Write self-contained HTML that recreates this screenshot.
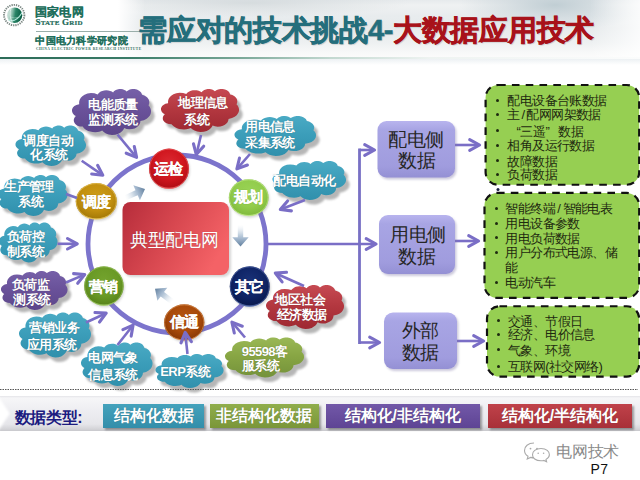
<!DOCTYPE html><html><head><meta charset="utf-8"><style>
*{margin:0;padding:0;box-sizing:border-box}
html,body{width:640px;height:480px;overflow:hidden;background:#fff}
body{position:relative;font-family:"Liberation Sans",sans-serif}
.t{position:absolute;white-space:nowrap;line-height:1}
.cw{color:#fff;font-weight:bold;text-shadow:0 0 1px rgba(0,0,0,.35)}
.cb{-webkit-text-stroke:0.15px #fff}
.g{color:#1e2a10}

</style></head><body>
<div style="position:absolute;left:0;top:0;width:640px;height:57px;background:linear-gradient(180deg,#e6eaec 0px,#eff1f2 5px,#e8ecee 16px,#e6eaec 28px,#edf0f1 42px,#f7f8f8 52px,#fbfbfb 57px)"></div>
<div style="position:absolute;left:0;top:0;width:640px;height:57px;background:radial-gradient(ellipse 95px 26px at 555px 5px,rgba(190,204,210,.95),rgba(196,208,214,.5) 50%,rgba(200,212,216,0))"></div>
<div style="position:absolute;left:0;top:0;width:640px;height:57px;background:radial-gradient(ellipse 160px 14px at 250px 3px,rgba(205,212,215,.7),rgba(205,212,215,0))"></div>
<div style="position:absolute;left:0;top:0;width:640px;height:57px;background:linear-gradient(90deg,#fff 0px,#fff 118px,rgba(255,255,255,0) 145px,rgba(255,255,255,0) 590px,rgba(255,255,255,.8) 640px)"></div>
<div style="position:absolute;left:0;top:57px;width:640px;height:2px;background:linear-gradient(90deg,#2c6c58 0px,#3a7c68 130px,#7aa898 240px,#c2d8d0 330px,#eef3f1 430px,#fbfcfc 640px)"></div>
<div style="position:absolute;left:0;top:59px;width:640px;height:6px;background:linear-gradient(180deg,rgba(225,232,236,.6),rgba(255,255,255,0))"></div>
<svg style="position:absolute;left:0;top:0" width="32" height="32" viewBox="0 0 32 32">
<defs><linearGradient id="lg" x1="0" y1="0" x2="1" y2="0.15"><stop offset="0" stop-color="#e4eeea"/><stop offset="0.35" stop-color="#9cc8b8"/><stop offset="0.6" stop-color="#2a8466"/><stop offset="1" stop-color="#0a5e44"/></linearGradient></defs>
<circle cx="14.2" cy="15.1" r="10.2" fill="none" stroke="#7c8884" stroke-width="1.9" stroke-dasharray="1.3 0.95"/>
<circle cx="14.6" cy="15.2" r="7.7" fill="url(#lg)"/>
<path d="M8.2 19.8 Q15.5 23.5 22.2 12.5" stroke="#b8ece0" stroke-width="1.1" fill="none"/>
<path d="M11 8.2 Q8.6 15.5 12.4 22.6" stroke="#e0f2ec" stroke-width="0.9" fill="none"/>
<path d="M9.5 17 Q14 18.5 19.5 17.5" stroke="#cdeee2" stroke-width="0.6" fill="none" opacity="0.7"/>
</svg>
<div class="t" style="left:34.9px;top:6px;font-size:12px;letter-spacing:0.15px;color:#1f6f5c;font-weight:bold;-webkit-text-stroke:0.1px #1f6f5c;letter-spacing:0.3px">国家电网</div>
<div class="t" style="left:35.5px;top:17.5px;font-size:9px;color:#1c6a58;font-family:'Liberation Serif',serif;font-weight:bold;letter-spacing:0.2px;-webkit-text-stroke:0.2px #1c6a58">S<span style="font-size:7px">TATE</span> G<span style="font-size:7px">RID</span></div>
<div style="position:absolute;left:36px;top:30.5px;width:109px;height:1px;background:#9aaeaa"></div>
<div class="t" style="left:35.3px;top:36.1px;font-size:10px;letter-spacing:0.3px;color:#1f6f5c;font-weight:bold;-webkit-text-stroke:0.1px #1f6f5c">中国电力科学研究院</div>
<div class="t" style="left:36px;top:47.6px;font-size:3.6px;color:#2f6f5c;font-family:'Liberation Serif',serif;font-weight:bold;letter-spacing:0.47px">CHINA ELECTRIC POWER RESEARCH INSTITUTE</div>
<div class="t" style="left:138.3px;top:15.6px;font-size:29px;letter-spacing:-0.3px;font-weight:bold;color:#246e7c;-webkit-text-stroke:0.5px currentColor;text-shadow:1px 1px 1px rgba(0,0,0,.18)">需应对的技术挑战4-<span style="color:#a8121a;-webkit-text-stroke:0.5px #a8121a">大数据应用技术</span></div>
<svg style="position:absolute;left:0;top:0" width="640" height="480" viewBox="0 0 640 480">
<defs>
<filter id="blur1" x="-20%" y="-20%" width="140%" height="140%"><feGaussianBlur stdDeviation="1.3"/></filter>
<filter id="blur08" x="-20%" y="-20%" width="140%" height="140%"><feGaussianBlur stdDeviation="0.9"/></filter><filter id="blur05"><feGaussianBlur stdDeviation="0.5"/></filter>
<linearGradient id="cg0" gradientUnits="userSpaceOnUse" x1="0" y1="89" x2="0" y2="135"><stop offset="0" stop-color="#7660a8"/><stop offset="0.45" stop-color="#6a529a"/><stop offset="1" stop-color="#5c468a"/></linearGradient>
<linearGradient id="cg1" gradientUnits="userSpaceOnUse" x1="0" y1="89" x2="0" y2="132"><stop offset="0" stop-color="#c64a52"/><stop offset="0.45" stop-color="#b43840"/><stop offset="1" stop-color="#9e2832"/></linearGradient>
<linearGradient id="cg2" gradientUnits="userSpaceOnUse" x1="0" y1="116" x2="0" y2="156"><stop offset="0" stop-color="#4aaac4"/><stop offset="0.45" stop-color="#3c9eba"/><stop offset="1" stop-color="#3090ac"/></linearGradient>
<linearGradient id="cg3" gradientUnits="userSpaceOnUse" x1="0" y1="161" x2="0" y2="200"><stop offset="0" stop-color="#4aaac4"/><stop offset="0.45" stop-color="#3c9eba"/><stop offset="1" stop-color="#3090ac"/></linearGradient>
<linearGradient id="cg4" gradientUnits="userSpaceOnUse" x1="0" y1="125.5" x2="0" y2="166"><stop offset="0" stop-color="#4aaac4"/><stop offset="0.45" stop-color="#3c9eba"/><stop offset="1" stop-color="#3090ac"/></linearGradient>
<linearGradient id="cg5" gradientUnits="userSpaceOnUse" x1="0" y1="175" x2="0" y2="216"><stop offset="0" stop-color="#4aaac4"/><stop offset="0.45" stop-color="#3c9eba"/><stop offset="1" stop-color="#3090ac"/></linearGradient>
<linearGradient id="cg6" gradientUnits="userSpaceOnUse" x1="0" y1="222.5" x2="0" y2="262.5"><stop offset="0" stop-color="#4aaac4"/><stop offset="0.45" stop-color="#3c9eba"/><stop offset="1" stop-color="#3090ac"/></linearGradient>
<linearGradient id="cg7" gradientUnits="userSpaceOnUse" x1="0" y1="271" x2="0" y2="310"><stop offset="0" stop-color="#7660a8"/><stop offset="0.45" stop-color="#6a529a"/><stop offset="1" stop-color="#5c468a"/></linearGradient>
<linearGradient id="cg8" gradientUnits="userSpaceOnUse" x1="0" y1="312.5" x2="0" y2="357.5"><stop offset="0" stop-color="#4aaac4"/><stop offset="0.45" stop-color="#3c9eba"/><stop offset="1" stop-color="#3090ac"/></linearGradient>
<linearGradient id="cg9" gradientUnits="userSpaceOnUse" x1="0" y1="342.5" x2="0" y2="386"><stop offset="0" stop-color="#4aaac4"/><stop offset="0.45" stop-color="#3c9eba"/><stop offset="1" stop-color="#3090ac"/></linearGradient>
<linearGradient id="cg10" gradientUnits="userSpaceOnUse" x1="0" y1="354" x2="0" y2="388"><stop offset="0" stop-color="#4aaac4"/><stop offset="0.45" stop-color="#3c9eba"/><stop offset="1" stop-color="#3090ac"/></linearGradient>
<linearGradient id="cg11" gradientUnits="userSpaceOnUse" x1="0" y1="337.5" x2="0" y2="377.5"><stop offset="0" stop-color="#9ab856"/><stop offset="0.45" stop-color="#88a644"/><stop offset="1" stop-color="#74923a"/></linearGradient>
<linearGradient id="cg12" gradientUnits="userSpaceOnUse" x1="0" y1="285" x2="0" y2="329"><stop offset="0" stop-color="#c64a52"/><stop offset="0.45" stop-color="#b43840"/><stop offset="1" stop-color="#9e2832"/></linearGradient>
<radialGradient id="bg0" cx="0.5" cy="0.38" r="0.62"><stop offset="0" stop-color="#dc2a32"/><stop offset="0.6" stop-color="#d0161e"/><stop offset="0.92" stop-color="#b40e16"/><stop offset="1" stop-color="#f07070"/></radialGradient>
<radialGradient id="bg1" cx="0.5" cy="0.38" r="0.62"><stop offset="0" stop-color="#9ad456"/><stop offset="0.6" stop-color="#92cc4c"/><stop offset="0.92" stop-color="#82bc3e"/><stop offset="1" stop-color="#c8ec98"/></radialGradient>
<radialGradient id="bg2" cx="0.5" cy="0.38" r="0.62"><stop offset="0" stop-color="#cc9c18"/><stop offset="0.6" stop-color="#c29010"/><stop offset="0.92" stop-color="#a87c08"/><stop offset="1" stop-color="#f0d070"/></radialGradient>
<radialGradient id="bg3" cx="0.5" cy="0.38" r="0.62"><stop offset="0" stop-color="#74a42e"/><stop offset="0.6" stop-color="#6a9a26"/><stop offset="0.92" stop-color="#5a861c"/><stop offset="1" stop-color="#a8d070"/></radialGradient>
<radialGradient id="bg4" cx="0.5" cy="0.38" r="0.62"><stop offset="0" stop-color="#b4540f"/><stop offset="0.6" stop-color="#a84a0a"/><stop offset="0.92" stop-color="#8c3a06"/><stop offset="1" stop-color="#e8a060"/></radialGradient>
<radialGradient id="bg5" cx="0.5" cy="0.38" r="0.62"><stop offset="0" stop-color="#1a3278"/><stop offset="0.6" stop-color="#0f2466"/><stop offset="0.92" stop-color="#0a1a50"/><stop offset="1" stop-color="#6078b8"/></radialGradient>
<linearGradient id="rectg" x1="0" y1="0.1" x2="1" y2="0.5"><stop offset="0" stop-color="#b82e3c"/><stop offset="0.5" stop-color="#d84850"/><stop offset="1" stop-color="#f46266"/></linearGradient>
<linearGradient id="boxg" x1="0" y1="0" x2="0" y2="1"><stop offset="0" stop-color="#b8b4ee"/><stop offset="0.15" stop-color="#a8a5e4"/><stop offset="0.8" stop-color="#a09cde"/><stop offset="1" stop-color="#9490d4"/></linearGradient>
<linearGradient id="sa1" x1="0" y1="1" x2="1" y2="0"><stop offset="0" stop-color="#8aa2bc" stop-opacity="0"/><stop offset="0.55" stop-color="#b8c8d8"/><stop offset="1" stop-color="#7890aa"/></linearGradient>
<linearGradient id="sa2" x1="0" y1="0" x2="0" y2="1"><stop offset="0" stop-color="#c8d4e0" stop-opacity="0.2"/><stop offset="0.5" stop-color="#b8c8d8"/><stop offset="1" stop-color="#7890aa"/></linearGradient>
<linearGradient id="sa3" x1="1" y1="1" x2="0" y2="0"><stop offset="0" stop-color="#8aa2bc" stop-opacity="0"/><stop offset="0.55" stop-color="#b8c8d8"/><stop offset="1" stop-color="#7890aa"/></linearGradient>
</defs>
<circle cx="177" cy="244" r="89" fill="none" stroke="#7c74cc" stroke-width="4.8"/>
<rect x="124" y="204" width="107" height="73" rx="8" fill="#8a8a8a" opacity="0.35" filter="url(#blur1)"/>
<rect x="122.5" y="202" width="106.5" height="73" rx="8" fill="url(#rectg)"/>
<defs><linearGradient id="ba0" gradientUnits="userSpaceOnUse" x1="125.2" y1="197.8" x2="145.0" y2="189.0"><stop offset="0" stop-color="#e8eef4" stop-opacity="0"/><stop offset="0.45" stop-color="#c4d2e0"/><stop offset="0.62" stop-color="#a6bad0"/><stop offset="1" stop-color="#62809e"/></linearGradient><linearGradient id="ba1" gradientUnits="userSpaceOnUse" x1="240.5" y1="224.8" x2="240.5" y2="246.5"><stop offset="0" stop-color="#e8eef4" stop-opacity="0"/><stop offset="0.45" stop-color="#c4d2e0"/><stop offset="0.62" stop-color="#a6bad0"/><stop offset="1" stop-color="#62809e"/></linearGradient><linearGradient id="ba2" gradientUnits="userSpaceOnUse" x1="172.3" y1="301.8" x2="155.0" y2="288.7"><stop offset="0" stop-color="#e8eef4" stop-opacity="0"/><stop offset="0.45" stop-color="#c4d2e0"/><stop offset="0.62" stop-color="#a6bad0"/><stop offset="1" stop-color="#62809e"/></linearGradient></defs>
<path d="M145.0 189.0 L139.9 200.2 L137.7 195.2 L126.3 200.3 L124.1 195.4 L135.5 190.3 L133.3 185.3 Z" fill="url(#ba0)"/>
<path d="M240.5 246.5 L232.3 237.3 L237.8 237.3 L237.8 224.8 L243.2 224.8 L243.2 237.3 L248.7 237.3 Z" fill="url(#ba1)"/>
<path d="M155.0 288.7 L167.3 287.7 L164.0 292.1 L174.0 299.6 L170.7 303.9 L160.7 296.4 L157.4 300.8 Z" fill="url(#ba2)"/>
<path d="M79.2 104.1 L79.1 102.6 L79.3 101.0 L79.8 99.4 L80.8 97.8 L82.3 96.2 L84.5 94.7 L87.5 93.5 L91.0 93.0 L94.5 93.3 L97.6 94.4 L98.4 93.4 L99.4 92.5 L100.7 91.6 L102.3 90.9 L104.2 90.4 L106.2 90.3 L108.3 90.4 L110.2 90.9 L111.8 91.6 L113.1 92.5 L113.7 91.6 L114.6 90.8 L115.8 90.0 L117.3 89.4 L119.1 89.0 L121.0 89.0 L122.8 89.3 L124.4 89.9 L125.6 90.6 L126.6 91.5 L128.0 90.4 L129.8 89.6 L132.1 89.0 L134.6 89.0 L136.9 89.6 L138.7 90.4 L140.1 91.5 L141.1 92.6 L141.7 93.7 L142.1 94.8 L144.3 95.5 L146.0 96.4 L147.3 97.6 L148.2 98.7 L148.8 99.8 L149.1 100.9 L149.3 102.0 L149.2 103.1 L149.0 104.2 L148.5 105.3 L149.8 107.0 L150.6 108.7 L151.0 110.4 L151.0 112.0 L150.7 113.7 L149.9 115.4 L148.6 117.1 L146.7 118.7 L143.9 120.2 L140.4 121.0 L140.3 122.2 L139.9 123.5 L139.2 124.7 L138.2 126.0 L136.7 127.3 L134.7 128.4 L132.2 129.1 L129.4 129.3 L126.6 128.9 L124.2 128.0 L123.5 129.5 L122.3 131.1 L120.6 132.5 L118.3 133.8 L115.3 134.7 L112.0 135.0 L108.7 134.5 L105.9 133.5 L103.7 132.1 L102.2 130.6 L100.1 131.5 L97.8 132.0 L95.2 132.2 L92.7 132.1 L90.3 131.6 L88.2 130.9 L86.3 129.9 L84.8 128.9 L83.6 127.7 L82.7 126.6 L79.9 126.5 L77.5 125.7 L75.8 124.6 L74.7 123.3 L74.1 122.1 L73.8 120.9 L73.8 119.7 L74.1 118.5 L74.8 117.3 L75.9 116.0 L74.1 114.9 L72.9 113.6 L72.3 112.3 L72.0 111.0 L72.0 109.8 L72.4 108.6 L73.1 107.3 L74.4 106.0 L76.4 104.9 L79.1 104.3 Z" fill="#7c7c7c" opacity="0.55" transform="translate(3.6,4.6)" filter="url(#blur1)"/>
<path d="M79.2 104.1 L79.1 102.6 L79.3 101.0 L79.8 99.4 L80.8 97.8 L82.3 96.2 L84.5 94.7 L87.5 93.5 L91.0 93.0 L94.5 93.3 L97.6 94.4 L98.4 93.4 L99.4 92.5 L100.7 91.6 L102.3 90.9 L104.2 90.4 L106.2 90.3 L108.3 90.4 L110.2 90.9 L111.8 91.6 L113.1 92.5 L113.7 91.6 L114.6 90.8 L115.8 90.0 L117.3 89.4 L119.1 89.0 L121.0 89.0 L122.8 89.3 L124.4 89.9 L125.6 90.6 L126.6 91.5 L128.0 90.4 L129.8 89.6 L132.1 89.0 L134.6 89.0 L136.9 89.6 L138.7 90.4 L140.1 91.5 L141.1 92.6 L141.7 93.7 L142.1 94.8 L144.3 95.5 L146.0 96.4 L147.3 97.6 L148.2 98.7 L148.8 99.8 L149.1 100.9 L149.3 102.0 L149.2 103.1 L149.0 104.2 L148.5 105.3 L149.8 107.0 L150.6 108.7 L151.0 110.4 L151.0 112.0 L150.7 113.7 L149.9 115.4 L148.6 117.1 L146.7 118.7 L143.9 120.2 L140.4 121.0 L140.3 122.2 L139.9 123.5 L139.2 124.7 L138.2 126.0 L136.7 127.3 L134.7 128.4 L132.2 129.1 L129.4 129.3 L126.6 128.9 L124.2 128.0 L123.5 129.5 L122.3 131.1 L120.6 132.5 L118.3 133.8 L115.3 134.7 L112.0 135.0 L108.7 134.5 L105.9 133.5 L103.7 132.1 L102.2 130.6 L100.1 131.5 L97.8 132.0 L95.2 132.2 L92.7 132.1 L90.3 131.6 L88.2 130.9 L86.3 129.9 L84.8 128.9 L83.6 127.7 L82.7 126.6 L79.9 126.5 L77.5 125.7 L75.8 124.6 L74.7 123.3 L74.1 122.1 L73.8 120.9 L73.8 119.7 L74.1 118.5 L74.8 117.3 L75.9 116.0 L74.1 114.9 L72.9 113.6 L72.3 112.3 L72.0 111.0 L72.0 109.8 L72.4 108.6 L73.1 107.3 L74.4 106.0 L76.4 104.9 L79.1 104.3 Z" fill="url(#cg0)"/>
<path d="M168.1 103.1 L168.0 101.7 L168.2 100.2 L168.7 98.7 L169.7 97.2 L171.2 95.7 L173.4 94.3 L176.3 93.2 L179.7 92.8 L183.2 93.1 L186.3 94.0 L187.0 93.1 L188.0 92.3 L189.3 91.5 L190.9 90.8 L192.8 90.3 L194.8 90.2 L196.8 90.3 L198.7 90.8 L200.3 91.5 L201.6 92.3 L202.2 91.5 L203.1 90.7 L204.3 90.0 L205.8 89.4 L207.5 89.0 L209.4 89.0 L211.1 89.3 L212.7 89.8 L213.9 90.5 L214.9 91.3 L216.3 90.3 L218.1 89.5 L220.4 89.0 L222.8 89.0 L225.0 89.5 L226.9 90.3 L228.3 91.3 L229.2 92.3 L229.8 93.4 L230.2 94.4 L232.3 95.0 L234.1 96.0 L235.3 97.0 L236.2 98.1 L236.8 99.1 L237.1 100.1 L237.3 101.2 L237.2 102.2 L237.0 103.2 L236.5 104.2 L237.8 105.8 L238.6 107.4 L239.0 109.0 L239.0 110.5 L238.7 112.1 L237.9 113.6 L236.7 115.2 L234.7 116.8 L232.0 118.1 L228.5 118.9 L228.4 120.1 L228.0 121.2 L227.4 122.4 L226.4 123.6 L224.9 124.8 L222.9 125.8 L220.4 126.5 L217.6 126.7 L214.9 126.3 L212.6 125.5 L211.8 126.9 L210.7 128.3 L209.0 129.7 L206.7 130.9 L203.8 131.8 L200.5 132.0 L197.2 131.6 L194.5 130.6 L192.3 129.3 L190.8 127.9 L188.7 128.7 L186.4 129.2 L184.0 129.4 L181.5 129.3 L179.1 128.9 L177.0 128.2 L175.1 127.3 L173.6 126.3 L172.5 125.2 L171.5 124.2 L168.8 124.0 L166.5 123.3 L164.8 122.3 L163.7 121.1 L163.0 119.9 L162.8 118.8 L162.8 117.7 L163.1 116.6 L163.7 115.4 L164.9 114.3 L163.1 113.2 L161.9 112.0 L161.3 110.8 L161.0 109.6 L161.0 108.5 L161.4 107.3 L162.1 106.1 L163.4 104.9 L165.4 103.8 L168.0 103.3 Z" fill="#7c7c7c" opacity="0.55" transform="translate(3.6,4.6)" filter="url(#blur1)"/>
<path d="M168.1 103.1 L168.0 101.7 L168.2 100.2 L168.7 98.7 L169.7 97.2 L171.2 95.7 L173.4 94.3 L176.3 93.2 L179.7 92.8 L183.2 93.1 L186.3 94.0 L187.0 93.1 L188.0 92.3 L189.3 91.5 L190.9 90.8 L192.8 90.3 L194.8 90.2 L196.8 90.3 L198.7 90.8 L200.3 91.5 L201.6 92.3 L202.2 91.5 L203.1 90.7 L204.3 90.0 L205.8 89.4 L207.5 89.0 L209.4 89.0 L211.1 89.3 L212.7 89.8 L213.9 90.5 L214.9 91.3 L216.3 90.3 L218.1 89.5 L220.4 89.0 L222.8 89.0 L225.0 89.5 L226.9 90.3 L228.3 91.3 L229.2 92.3 L229.8 93.4 L230.2 94.4 L232.3 95.0 L234.1 96.0 L235.3 97.0 L236.2 98.1 L236.8 99.1 L237.1 100.1 L237.3 101.2 L237.2 102.2 L237.0 103.2 L236.5 104.2 L237.8 105.8 L238.6 107.4 L239.0 109.0 L239.0 110.5 L238.7 112.1 L237.9 113.6 L236.7 115.2 L234.7 116.8 L232.0 118.1 L228.5 118.9 L228.4 120.1 L228.0 121.2 L227.4 122.4 L226.4 123.6 L224.9 124.8 L222.9 125.8 L220.4 126.5 L217.6 126.7 L214.9 126.3 L212.6 125.5 L211.8 126.9 L210.7 128.3 L209.0 129.7 L206.7 130.9 L203.8 131.8 L200.5 132.0 L197.2 131.6 L194.5 130.6 L192.3 129.3 L190.8 127.9 L188.7 128.7 L186.4 129.2 L184.0 129.4 L181.5 129.3 L179.1 128.9 L177.0 128.2 L175.1 127.3 L173.6 126.3 L172.5 125.2 L171.5 124.2 L168.8 124.0 L166.5 123.3 L164.8 122.3 L163.7 121.1 L163.0 119.9 L162.8 118.8 L162.8 117.7 L163.1 116.6 L163.7 115.4 L164.9 114.3 L163.1 113.2 L161.9 112.0 L161.3 110.8 L161.0 109.6 L161.0 108.5 L161.4 107.3 L162.1 106.1 L163.4 104.9 L165.4 103.8 L168.0 103.3 Z" fill="url(#cg1)"/>
<path d="M241.9 129.2 L241.8 127.8 L242.0 126.4 L242.6 125.1 L243.6 123.7 L245.1 122.2 L247.4 120.9 L250.5 119.9 L254.1 119.5 L257.7 119.8 L261.0 120.7 L261.7 119.8 L262.7 119.0 L264.1 118.3 L265.7 117.7 L267.7 117.2 L269.8 117.1 L271.9 117.2 L273.9 117.7 L275.5 118.3 L276.9 119.0 L277.5 118.3 L278.5 117.6 L279.7 116.9 L281.3 116.3 L283.1 116.0 L285.0 116.0 L286.9 116.3 L288.5 116.8 L289.8 117.4 L290.8 118.1 L292.2 117.2 L294.2 116.5 L296.5 116.0 L299.1 116.0 L301.4 116.5 L303.3 117.2 L304.8 118.2 L305.8 119.1 L306.4 120.1 L306.8 121.0 L309.0 121.6 L310.8 122.5 L312.2 123.4 L313.1 124.4 L313.7 125.4 L314.1 126.4 L314.2 127.3 L314.1 128.2 L313.9 129.2 L313.4 130.2 L314.8 131.7 L315.6 133.1 L316.0 134.6 L316.0 136.0 L315.7 137.4 L314.9 138.9 L313.6 140.4 L311.5 141.9 L308.7 143.1 L305.1 143.8 L304.9 144.9 L304.6 146.0 L303.9 147.1 L302.8 148.2 L301.3 149.3 L299.2 150.2 L296.6 150.9 L293.7 151.0 L290.8 150.7 L288.4 149.9 L287.6 151.2 L286.4 152.6 L284.6 153.9 L282.2 155.0 L279.2 155.8 L275.7 156.0 L272.4 155.6 L269.5 154.7 L267.2 153.5 L265.6 152.2 L263.5 152.9 L261.1 153.4 L258.5 153.6 L255.9 153.5 L253.4 153.1 L251.2 152.4 L249.3 151.6 L247.7 150.7 L246.5 149.7 L245.5 148.7 L242.7 148.6 L240.2 147.9 L238.4 146.9 L237.3 145.9 L236.6 144.8 L236.3 143.7 L236.4 142.7 L236.7 141.7 L237.4 140.6 L238.5 139.5 L236.6 138.5 L235.5 137.4 L234.8 136.3 L234.5 135.2 L234.5 134.1 L234.9 133.0 L235.7 131.9 L237.0 130.8 L239.1 129.8 L241.8 129.3 Z" fill="#7c7c7c" opacity="0.55" transform="translate(3.6,4.6)" filter="url(#blur1)"/>
<path d="M241.9 129.2 L241.8 127.8 L242.0 126.4 L242.6 125.1 L243.6 123.7 L245.1 122.2 L247.4 120.9 L250.5 119.9 L254.1 119.5 L257.7 119.8 L261.0 120.7 L261.7 119.8 L262.7 119.0 L264.1 118.3 L265.7 117.7 L267.7 117.2 L269.8 117.1 L271.9 117.2 L273.9 117.7 L275.5 118.3 L276.9 119.0 L277.5 118.3 L278.5 117.6 L279.7 116.9 L281.3 116.3 L283.1 116.0 L285.0 116.0 L286.9 116.3 L288.5 116.8 L289.8 117.4 L290.8 118.1 L292.2 117.2 L294.2 116.5 L296.5 116.0 L299.1 116.0 L301.4 116.5 L303.3 117.2 L304.8 118.2 L305.8 119.1 L306.4 120.1 L306.8 121.0 L309.0 121.6 L310.8 122.5 L312.2 123.4 L313.1 124.4 L313.7 125.4 L314.1 126.4 L314.2 127.3 L314.1 128.2 L313.9 129.2 L313.4 130.2 L314.8 131.7 L315.6 133.1 L316.0 134.6 L316.0 136.0 L315.7 137.4 L314.9 138.9 L313.6 140.4 L311.5 141.9 L308.7 143.1 L305.1 143.8 L304.9 144.9 L304.6 146.0 L303.9 147.1 L302.8 148.2 L301.3 149.3 L299.2 150.2 L296.6 150.9 L293.7 151.0 L290.8 150.7 L288.4 149.9 L287.6 151.2 L286.4 152.6 L284.6 153.9 L282.2 155.0 L279.2 155.8 L275.7 156.0 L272.4 155.6 L269.5 154.7 L267.2 153.5 L265.6 152.2 L263.5 152.9 L261.1 153.4 L258.5 153.6 L255.9 153.5 L253.4 153.1 L251.2 152.4 L249.3 151.6 L247.7 150.7 L246.5 149.7 L245.5 148.7 L242.7 148.6 L240.2 147.9 L238.4 146.9 L237.3 145.9 L236.6 144.8 L236.3 143.7 L236.4 142.7 L236.7 141.7 L237.4 140.6 L238.5 139.5 L236.6 138.5 L235.5 137.4 L234.8 136.3 L234.5 135.2 L234.5 134.1 L234.9 133.0 L235.7 131.9 L237.0 130.8 L239.1 129.8 L241.8 129.3 Z" fill="url(#cg2)"/>
<path d="M279.2 173.8 L279.1 172.5 L279.3 171.2 L279.8 169.8 L280.7 168.5 L282.1 167.1 L284.2 165.8 L286.9 164.8 L290.2 164.4 L293.5 164.7 L296.4 165.5 L297.0 164.8 L298.0 164.0 L299.2 163.2 L300.7 162.6 L302.4 162.2 L304.3 162.1 L306.2 162.2 L308.0 162.6 L309.5 163.2 L310.7 163.9 L311.3 163.2 L312.2 162.5 L313.3 161.9 L314.7 161.3 L316.3 161.0 L318.1 161.0 L319.8 161.3 L321.2 161.8 L322.4 162.4 L323.3 163.1 L324.6 162.2 L326.3 161.5 L328.4 161.0 L330.7 161.0 L332.8 161.5 L334.6 162.2 L335.9 163.1 L336.8 164.0 L337.4 165.0 L337.7 165.9 L339.7 166.5 L341.3 167.3 L342.5 168.2 L343.4 169.2 L343.9 170.2 L344.2 171.1 L344.4 172.0 L344.3 172.9 L344.1 173.9 L343.6 174.8 L344.9 176.3 L345.6 177.7 L346.0 179.1 L346.0 180.5 L345.7 181.9 L345.0 183.3 L343.8 184.8 L342.0 186.2 L339.4 187.4 L336.1 188.1 L336.0 189.2 L335.7 190.2 L335.1 191.3 L334.1 192.4 L332.7 193.5 L330.9 194.4 L328.5 195.0 L325.9 195.2 L323.3 194.8 L321.1 194.1 L320.4 195.4 L319.3 196.7 L317.7 197.9 L315.5 199.0 L312.8 199.8 L309.7 200.0 L306.6 199.6 L304.0 198.7 L302.0 197.6 L300.6 196.3 L298.6 197.0 L296.5 197.5 L294.1 197.7 L291.8 197.6 L289.5 197.2 L287.5 196.5 L285.8 195.7 L284.4 194.8 L283.3 193.9 L282.4 192.9 L279.9 192.8 L277.7 192.1 L276.1 191.2 L275.0 190.1 L274.4 189.1 L274.2 188.0 L274.2 187.0 L274.5 186.0 L275.1 185.0 L276.1 183.9 L274.4 182.9 L273.4 181.8 L272.8 180.7 L272.5 179.7 L272.5 178.6 L272.9 177.6 L273.6 176.5 L274.8 175.4 L276.6 174.5 L279.1 173.9 Z" fill="#7c7c7c" opacity="0.55" transform="translate(3.6,4.6)" filter="url(#blur1)"/>
<path d="M279.2 173.8 L279.1 172.5 L279.3 171.2 L279.8 169.8 L280.7 168.5 L282.1 167.1 L284.2 165.8 L286.9 164.8 L290.2 164.4 L293.5 164.7 L296.4 165.5 L297.0 164.8 L298.0 164.0 L299.2 163.2 L300.7 162.6 L302.4 162.2 L304.3 162.1 L306.2 162.2 L308.0 162.6 L309.5 163.2 L310.7 163.9 L311.3 163.2 L312.2 162.5 L313.3 161.9 L314.7 161.3 L316.3 161.0 L318.1 161.0 L319.8 161.3 L321.2 161.8 L322.4 162.4 L323.3 163.1 L324.6 162.2 L326.3 161.5 L328.4 161.0 L330.7 161.0 L332.8 161.5 L334.6 162.2 L335.9 163.1 L336.8 164.0 L337.4 165.0 L337.7 165.9 L339.7 166.5 L341.3 167.3 L342.5 168.2 L343.4 169.2 L343.9 170.2 L344.2 171.1 L344.4 172.0 L344.3 172.9 L344.1 173.9 L343.6 174.8 L344.9 176.3 L345.6 177.7 L346.0 179.1 L346.0 180.5 L345.7 181.9 L345.0 183.3 L343.8 184.8 L342.0 186.2 L339.4 187.4 L336.1 188.1 L336.0 189.2 L335.7 190.2 L335.1 191.3 L334.1 192.4 L332.7 193.5 L330.9 194.4 L328.5 195.0 L325.9 195.2 L323.3 194.8 L321.1 194.1 L320.4 195.4 L319.3 196.7 L317.7 197.9 L315.5 199.0 L312.8 199.8 L309.7 200.0 L306.6 199.6 L304.0 198.7 L302.0 197.6 L300.6 196.3 L298.6 197.0 L296.5 197.5 L294.1 197.7 L291.8 197.6 L289.5 197.2 L287.5 196.5 L285.8 195.7 L284.4 194.8 L283.3 193.9 L282.4 192.9 L279.9 192.8 L277.7 192.1 L276.1 191.2 L275.0 190.1 L274.4 189.1 L274.2 188.0 L274.2 187.0 L274.5 186.0 L275.1 185.0 L276.1 183.9 L274.4 182.9 L273.4 181.8 L272.8 180.7 L272.5 179.7 L272.5 178.6 L272.9 177.6 L273.6 176.5 L274.8 175.4 L276.6 174.5 L279.1 173.9 Z" fill="url(#cg3)"/>
<path d="M21.9 138.8 L21.8 137.4 L22.0 136.1 L22.5 134.7 L23.4 133.2 L24.7 131.8 L26.7 130.5 L29.3 129.5 L32.4 129.0 L35.6 129.3 L38.4 130.2 L39.0 129.4 L39.9 128.6 L41.1 127.8 L42.5 127.2 L44.2 126.8 L46.0 126.6 L47.9 126.8 L49.6 127.2 L51.0 127.8 L52.2 128.6 L52.7 127.8 L53.5 127.1 L54.6 126.4 L56.0 125.9 L57.5 125.5 L59.2 125.5 L60.8 125.8 L62.2 126.3 L63.3 126.9 L64.2 127.7 L65.4 126.7 L67.1 126.0 L69.2 125.5 L71.3 125.5 L73.4 126.0 L75.0 126.8 L76.3 127.7 L77.2 128.7 L77.7 129.6 L78.0 130.6 L80.0 131.2 L81.5 132.1 L82.7 133.0 L83.5 134.0 L84.0 135.0 L84.3 136.0 L84.4 136.9 L84.4 137.9 L84.2 138.9 L83.7 139.8 L84.9 141.4 L85.6 142.9 L86.0 144.3 L86.0 145.8 L85.7 147.2 L85.0 148.7 L83.9 150.2 L82.1 151.7 L79.7 152.9 L76.5 153.7 L76.4 154.8 L76.1 155.8 L75.5 157.0 L74.6 158.1 L73.3 159.2 L71.5 160.2 L69.2 160.8 L66.7 161.0 L64.2 160.6 L62.1 159.9 L61.4 161.2 L60.4 162.5 L58.9 163.8 L56.8 165.0 L54.1 165.8 L51.2 166.0 L48.2 165.6 L45.7 164.7 L43.8 163.5 L42.4 162.2 L40.6 162.9 L38.5 163.4 L36.2 163.6 L34.0 163.5 L31.8 163.0 L29.9 162.4 L28.3 161.5 L26.9 160.6 L25.8 159.6 L25.0 158.6 L22.6 158.5 L20.4 157.8 L18.9 156.8 L17.9 155.7 L17.4 154.6 L17.1 153.6 L17.1 152.5 L17.4 151.5 L18.0 150.4 L19.0 149.3 L17.4 148.3 L16.3 147.1 L15.7 146.0 L15.5 144.9 L15.5 143.8 L15.8 142.7 L16.5 141.6 L17.7 140.5 L19.5 139.5 L21.8 138.9 Z" fill="#7c7c7c" opacity="0.55" transform="translate(3.6,4.6)" filter="url(#blur1)"/>
<path d="M21.9 138.8 L21.8 137.4 L22.0 136.1 L22.5 134.7 L23.4 133.2 L24.7 131.8 L26.7 130.5 L29.3 129.5 L32.4 129.0 L35.6 129.3 L38.4 130.2 L39.0 129.4 L39.9 128.6 L41.1 127.8 L42.5 127.2 L44.2 126.8 L46.0 126.6 L47.9 126.8 L49.6 127.2 L51.0 127.8 L52.2 128.6 L52.7 127.8 L53.5 127.1 L54.6 126.4 L56.0 125.9 L57.5 125.5 L59.2 125.5 L60.8 125.8 L62.2 126.3 L63.3 126.9 L64.2 127.7 L65.4 126.7 L67.1 126.0 L69.2 125.5 L71.3 125.5 L73.4 126.0 L75.0 126.8 L76.3 127.7 L77.2 128.7 L77.7 129.6 L78.0 130.6 L80.0 131.2 L81.5 132.1 L82.7 133.0 L83.5 134.0 L84.0 135.0 L84.3 136.0 L84.4 136.9 L84.4 137.9 L84.2 138.9 L83.7 139.8 L84.9 141.4 L85.6 142.9 L86.0 144.3 L86.0 145.8 L85.7 147.2 L85.0 148.7 L83.9 150.2 L82.1 151.7 L79.7 152.9 L76.5 153.7 L76.4 154.8 L76.1 155.8 L75.5 157.0 L74.6 158.1 L73.3 159.2 L71.5 160.2 L69.2 160.8 L66.7 161.0 L64.2 160.6 L62.1 159.9 L61.4 161.2 L60.4 162.5 L58.9 163.8 L56.8 165.0 L54.1 165.8 L51.2 166.0 L48.2 165.6 L45.7 164.7 L43.8 163.5 L42.4 162.2 L40.6 162.9 L38.5 163.4 L36.2 163.6 L34.0 163.5 L31.8 163.0 L29.9 162.4 L28.3 161.5 L26.9 160.6 L25.8 159.6 L25.0 158.6 L22.6 158.5 L20.4 157.8 L18.9 156.8 L17.9 155.7 L17.4 154.6 L17.1 153.6 L17.1 152.5 L17.4 151.5 L18.0 150.4 L19.0 149.3 L17.4 148.3 L16.3 147.1 L15.7 146.0 L15.5 144.9 L15.5 143.8 L15.8 142.7 L16.5 141.6 L17.7 140.5 L19.5 139.5 L21.8 138.9 Z" fill="url(#cg4)"/>
<path d="M4.3 188.5 L4.2 187.1 L4.4 185.7 L4.9 184.3 L5.7 182.8 L7.1 181.4 L9.0 180.1 L11.6 179.0 L14.7 178.6 L17.8 178.9 L20.6 179.8 L21.2 178.9 L22.1 178.1 L23.2 177.4 L24.6 176.7 L26.3 176.3 L28.1 176.1 L29.9 176.3 L31.6 176.7 L33.0 177.3 L34.1 178.1 L34.7 177.3 L35.5 176.6 L36.6 175.9 L37.9 175.4 L39.4 175.0 L41.1 175.0 L42.7 175.3 L44.1 175.8 L45.2 176.5 L46.0 177.2 L47.2 176.3 L48.9 175.5 L50.9 175.0 L53.0 175.0 L55.1 175.5 L56.7 176.3 L57.9 177.2 L58.8 178.2 L59.3 179.2 L59.6 180.1 L61.6 180.8 L63.1 181.6 L64.2 182.6 L65.0 183.6 L65.5 184.6 L65.8 185.6 L66.0 186.6 L65.9 187.6 L65.7 188.5 L65.3 189.5 L66.5 191.1 L67.2 192.6 L67.5 194.0 L67.5 195.5 L67.2 197.0 L66.5 198.5 L65.4 200.0 L63.7 201.5 L61.3 202.8 L58.2 203.5 L58.1 204.6 L57.7 205.7 L57.2 206.9 L56.3 208.0 L54.9 209.1 L53.2 210.1 L51.0 210.7 L48.5 210.9 L46.0 210.6 L44.0 209.8 L43.3 211.1 L42.3 212.5 L40.8 213.8 L38.7 215.0 L36.1 215.8 L33.2 216.0 L30.3 215.6 L27.8 214.7 L25.9 213.5 L24.5 212.1 L22.7 212.8 L20.7 213.3 L18.5 213.5 L16.2 213.4 L14.1 213.0 L12.2 212.3 L10.6 211.5 L9.3 210.5 L8.2 209.5 L7.4 208.5 L5.0 208.4 L2.9 207.7 L1.4 206.7 L0.4 205.6 L-0.2 204.5 L-0.4 203.4 L-0.4 202.4 L-0.2 201.3 L0.4 200.2 L1.4 199.1 L-0.2 198.1 L-1.2 196.9 L-1.8 195.8 L-2.0 194.6 L-2.0 193.5 L-1.7 192.4 L-1.0 191.3 L0.2 190.1 L1.9 189.2 L4.3 188.6 Z" fill="#7c7c7c" opacity="0.55" transform="translate(3.6,4.6)" filter="url(#blur1)"/>
<path d="M4.3 188.5 L4.2 187.1 L4.4 185.7 L4.9 184.3 L5.7 182.8 L7.1 181.4 L9.0 180.1 L11.6 179.0 L14.7 178.6 L17.8 178.9 L20.6 179.8 L21.2 178.9 L22.1 178.1 L23.2 177.4 L24.6 176.7 L26.3 176.3 L28.1 176.1 L29.9 176.3 L31.6 176.7 L33.0 177.3 L34.1 178.1 L34.7 177.3 L35.5 176.6 L36.6 175.9 L37.9 175.4 L39.4 175.0 L41.1 175.0 L42.7 175.3 L44.1 175.8 L45.2 176.5 L46.0 177.2 L47.2 176.3 L48.9 175.5 L50.9 175.0 L53.0 175.0 L55.1 175.5 L56.7 176.3 L57.9 177.2 L58.8 178.2 L59.3 179.2 L59.6 180.1 L61.6 180.8 L63.1 181.6 L64.2 182.6 L65.0 183.6 L65.5 184.6 L65.8 185.6 L66.0 186.6 L65.9 187.6 L65.7 188.5 L65.3 189.5 L66.5 191.1 L67.2 192.6 L67.5 194.0 L67.5 195.5 L67.2 197.0 L66.5 198.5 L65.4 200.0 L63.7 201.5 L61.3 202.8 L58.2 203.5 L58.1 204.6 L57.7 205.7 L57.2 206.9 L56.3 208.0 L54.9 209.1 L53.2 210.1 L51.0 210.7 L48.5 210.9 L46.0 210.6 L44.0 209.8 L43.3 211.1 L42.3 212.5 L40.8 213.8 L38.7 215.0 L36.1 215.8 L33.2 216.0 L30.3 215.6 L27.8 214.7 L25.9 213.5 L24.5 212.1 L22.7 212.8 L20.7 213.3 L18.5 213.5 L16.2 213.4 L14.1 213.0 L12.2 212.3 L10.6 211.5 L9.3 210.5 L8.2 209.5 L7.4 208.5 L5.0 208.4 L2.9 207.7 L1.4 206.7 L0.4 205.6 L-0.2 204.5 L-0.4 203.4 L-0.4 202.4 L-0.2 201.3 L0.4 200.2 L1.4 199.1 L-0.2 198.1 L-1.2 196.9 L-1.8 195.8 L-2.0 194.6 L-2.0 193.5 L-1.7 192.4 L-1.0 191.3 L0.2 190.1 L1.9 189.2 L4.3 188.6 Z" fill="url(#cg5)"/>
<path d="M4.3 235.7 L4.2 234.3 L4.4 232.9 L4.8 231.6 L5.5 230.2 L6.6 228.7 L8.3 227.4 L10.5 226.4 L13.0 226.0 L15.7 226.3 L18.0 227.2 L18.5 226.3 L19.3 225.5 L20.2 224.8 L21.4 224.2 L22.8 223.7 L24.3 223.6 L25.9 223.7 L27.3 224.2 L28.5 224.8 L29.4 225.5 L29.9 224.8 L30.6 224.1 L31.5 223.4 L32.6 222.8 L33.9 222.5 L35.3 222.5 L36.6 222.8 L37.8 223.3 L38.7 223.9 L39.4 224.6 L40.4 223.7 L41.8 223.0 L43.5 222.5 L45.3 222.5 L47.0 223.0 L48.4 223.7 L49.4 224.7 L50.2 225.6 L50.6 226.6 L50.9 227.5 L52.5 228.1 L53.8 229.0 L54.7 229.9 L55.4 230.9 L55.9 231.9 L56.1 232.9 L56.2 233.8 L56.2 234.7 L56.0 235.7 L55.6 236.7 L56.6 238.2 L57.2 239.6 L57.5 241.1 L57.5 242.5 L57.2 243.9 L56.7 245.4 L55.8 246.9 L54.3 248.4 L52.3 249.6 L49.7 250.3 L49.6 251.4 L49.3 252.5 L48.8 253.6 L48.0 254.7 L46.9 255.8 L45.4 256.7 L43.6 257.4 L41.5 257.5 L39.4 257.2 L37.7 256.4 L37.1 257.7 L36.3 259.1 L35.0 260.4 L33.3 261.5 L31.1 262.3 L28.6 262.5 L26.2 262.1 L24.1 261.2 L22.5 260.0 L21.3 258.7 L19.8 259.4 L18.1 259.9 L16.2 260.1 L14.3 260.0 L12.6 259.6 L11.0 258.9 L9.6 258.1 L8.5 257.2 L7.6 256.2 L6.9 255.2 L4.9 255.1 L3.1 254.4 L1.8 253.4 L1.0 252.4 L0.5 251.3 L0.3 250.2 L0.3 249.2 L0.6 248.2 L1.0 247.1 L1.9 246.0 L0.5 245.0 L-0.3 243.9 L-0.8 242.8 L-1.0 241.7 L-1.0 240.6 L-0.7 239.5 L-0.2 238.4 L0.8 237.3 L2.3 236.3 L4.3 235.8 Z" fill="#7c7c7c" opacity="0.55" transform="translate(3.6,4.6)" filter="url(#blur1)"/>
<path d="M4.3 235.7 L4.2 234.3 L4.4 232.9 L4.8 231.6 L5.5 230.2 L6.6 228.7 L8.3 227.4 L10.5 226.4 L13.0 226.0 L15.7 226.3 L18.0 227.2 L18.5 226.3 L19.3 225.5 L20.2 224.8 L21.4 224.2 L22.8 223.7 L24.3 223.6 L25.9 223.7 L27.3 224.2 L28.5 224.8 L29.4 225.5 L29.9 224.8 L30.6 224.1 L31.5 223.4 L32.6 222.8 L33.9 222.5 L35.3 222.5 L36.6 222.8 L37.8 223.3 L38.7 223.9 L39.4 224.6 L40.4 223.7 L41.8 223.0 L43.5 222.5 L45.3 222.5 L47.0 223.0 L48.4 223.7 L49.4 224.7 L50.2 225.6 L50.6 226.6 L50.9 227.5 L52.5 228.1 L53.8 229.0 L54.7 229.9 L55.4 230.9 L55.9 231.9 L56.1 232.9 L56.2 233.8 L56.2 234.7 L56.0 235.7 L55.6 236.7 L56.6 238.2 L57.2 239.6 L57.5 241.1 L57.5 242.5 L57.2 243.9 L56.7 245.4 L55.8 246.9 L54.3 248.4 L52.3 249.6 L49.7 250.3 L49.6 251.4 L49.3 252.5 L48.8 253.6 L48.0 254.7 L46.9 255.8 L45.4 256.7 L43.6 257.4 L41.5 257.5 L39.4 257.2 L37.7 256.4 L37.1 257.7 L36.3 259.1 L35.0 260.4 L33.3 261.5 L31.1 262.3 L28.6 262.5 L26.2 262.1 L24.1 261.2 L22.5 260.0 L21.3 258.7 L19.8 259.4 L18.1 259.9 L16.2 260.1 L14.3 260.0 L12.6 259.6 L11.0 258.9 L9.6 258.1 L8.5 257.2 L7.6 256.2 L6.9 255.2 L4.9 255.1 L3.1 254.4 L1.8 253.4 L1.0 252.4 L0.5 251.3 L0.3 250.2 L0.3 249.2 L0.6 248.2 L1.0 247.1 L1.9 246.0 L0.5 245.0 L-0.3 243.9 L-0.8 242.8 L-1.0 241.7 L-1.0 240.6 L-0.7 239.5 L-0.2 238.4 L0.8 237.3 L2.3 236.3 L4.3 235.8 Z" fill="url(#cg6)"/>
<path d="M7.0 283.8 L6.9 282.5 L7.1 281.2 L7.6 279.8 L8.4 278.5 L9.7 277.1 L11.5 275.8 L14.0 274.8 L17.0 274.4 L20.0 274.7 L22.6 275.5 L23.2 274.8 L24.0 274.0 L25.1 273.2 L26.5 272.6 L28.1 272.2 L29.8 272.1 L31.5 272.2 L33.1 272.6 L34.5 273.2 L35.6 273.9 L36.1 273.2 L36.9 272.5 L37.9 271.9 L39.2 271.3 L40.7 271.0 L42.2 271.0 L43.8 271.3 L45.1 271.8 L46.1 272.4 L46.9 273.1 L48.1 272.2 L49.7 271.5 L51.6 271.0 L53.7 271.0 L55.6 271.5 L57.2 272.2 L58.3 273.1 L59.2 274.0 L59.7 275.0 L60.0 275.9 L61.8 276.5 L63.3 277.3 L64.4 278.2 L65.1 279.2 L65.6 280.2 L65.9 281.1 L66.0 282.0 L66.0 282.9 L65.8 283.9 L65.4 284.8 L66.5 286.3 L67.2 287.7 L67.5 289.1 L67.5 290.5 L67.2 291.9 L66.6 293.3 L65.5 294.8 L63.9 296.2 L61.5 297.4 L58.6 298.1 L58.5 299.2 L58.2 300.2 L57.6 301.3 L56.7 302.4 L55.5 303.5 L53.8 304.4 L51.7 305.0 L49.3 305.2 L47.0 304.8 L45.0 304.1 L44.3 305.4 L43.4 306.7 L41.9 307.9 L39.9 309.0 L37.4 309.8 L34.6 310.0 L31.9 309.6 L29.5 308.7 L27.7 307.6 L26.4 306.3 L24.6 307.0 L22.7 307.5 L20.6 307.7 L18.4 307.6 L16.4 307.2 L14.6 306.5 L13.1 305.7 L11.8 304.8 L10.8 303.9 L10.0 302.9 L7.7 302.8 L5.7 302.1 L4.2 301.2 L3.3 300.1 L2.7 299.1 L2.5 298.0 L2.5 297.0 L2.8 296.0 L3.3 295.0 L4.3 293.9 L2.8 292.9 L1.8 291.8 L1.2 290.7 L1.0 289.7 L1.0 288.6 L1.3 287.6 L2.0 286.5 L3.1 285.4 L4.7 284.5 L7.0 283.9 Z" fill="#7c7c7c" opacity="0.55" transform="translate(3.6,4.6)" filter="url(#blur1)"/>
<path d="M7.0 283.8 L6.9 282.5 L7.1 281.2 L7.6 279.8 L8.4 278.5 L9.7 277.1 L11.5 275.8 L14.0 274.8 L17.0 274.4 L20.0 274.7 L22.6 275.5 L23.2 274.8 L24.0 274.0 L25.1 273.2 L26.5 272.6 L28.1 272.2 L29.8 272.1 L31.5 272.2 L33.1 272.6 L34.5 273.2 L35.6 273.9 L36.1 273.2 L36.9 272.5 L37.9 271.9 L39.2 271.3 L40.7 271.0 L42.2 271.0 L43.8 271.3 L45.1 271.8 L46.1 272.4 L46.9 273.1 L48.1 272.2 L49.7 271.5 L51.6 271.0 L53.7 271.0 L55.6 271.5 L57.2 272.2 L58.3 273.1 L59.2 274.0 L59.7 275.0 L60.0 275.9 L61.8 276.5 L63.3 277.3 L64.4 278.2 L65.1 279.2 L65.6 280.2 L65.9 281.1 L66.0 282.0 L66.0 282.9 L65.8 283.9 L65.4 284.8 L66.5 286.3 L67.2 287.7 L67.5 289.1 L67.5 290.5 L67.2 291.9 L66.6 293.3 L65.5 294.8 L63.9 296.2 L61.5 297.4 L58.6 298.1 L58.5 299.2 L58.2 300.2 L57.6 301.3 L56.7 302.4 L55.5 303.5 L53.8 304.4 L51.7 305.0 L49.3 305.2 L47.0 304.8 L45.0 304.1 L44.3 305.4 L43.4 306.7 L41.9 307.9 L39.9 309.0 L37.4 309.8 L34.6 310.0 L31.9 309.6 L29.5 308.7 L27.7 307.6 L26.4 306.3 L24.6 307.0 L22.7 307.5 L20.6 307.7 L18.4 307.6 L16.4 307.2 L14.6 306.5 L13.1 305.7 L11.8 304.8 L10.8 303.9 L10.0 302.9 L7.7 302.8 L5.7 302.1 L4.2 301.2 L3.3 300.1 L2.7 299.1 L2.5 298.0 L2.5 297.0 L2.8 296.0 L3.3 295.0 L4.3 293.9 L2.8 292.9 L1.8 291.8 L1.2 290.7 L1.0 289.7 L1.0 288.6 L1.3 287.6 L2.0 286.5 L3.1 285.4 L4.7 284.5 L7.0 283.9 Z" fill="url(#cg7)"/>
<path d="M25.5 327.3 L25.4 325.8 L25.6 324.2 L26.1 322.7 L27.0 321.1 L28.4 319.5 L30.4 318.1 L33.1 316.9 L36.3 316.4 L39.5 316.7 L42.4 317.7 L43.0 316.8 L44.0 315.9 L45.1 315.1 L46.6 314.4 L48.3 313.9 L50.2 313.7 L52.1 313.9 L53.8 314.4 L55.3 315.1 L56.4 315.9 L57.0 315.1 L57.8 314.3 L58.9 313.5 L60.3 312.9 L61.9 312.5 L63.6 312.5 L65.3 312.8 L66.7 313.4 L67.9 314.1 L68.7 314.9 L70.0 313.9 L71.7 313.0 L73.8 312.5 L76.0 312.5 L78.1 313.0 L79.8 313.9 L81.1 314.9 L82.0 316.0 L82.5 317.1 L82.9 318.1 L84.9 318.8 L86.4 319.8 L87.6 320.9 L88.4 322.0 L89.0 323.1 L89.3 324.2 L89.4 325.2 L89.4 326.3 L89.1 327.3 L88.7 328.4 L89.9 330.1 L90.6 331.8 L91.0 333.4 L91.0 335.0 L90.7 336.6 L90.0 338.3 L88.8 340.0 L87.1 341.6 L84.5 343.0 L81.3 343.8 L81.2 345.0 L80.9 346.2 L80.3 347.5 L79.4 348.7 L78.0 349.9 L76.2 351.0 L73.9 351.7 L71.3 351.9 L68.8 351.5 L66.6 350.7 L65.9 352.2 L64.9 353.6 L63.3 355.1 L61.2 356.4 L58.5 357.2 L55.4 357.5 L52.4 357.1 L49.9 356.0 L47.9 354.7 L46.5 353.2 L44.6 354.0 L42.5 354.6 L40.2 354.8 L37.9 354.7 L35.7 354.2 L33.7 353.5 L32.1 352.6 L30.7 351.5 L29.6 350.4 L28.7 349.3 L26.2 349.2 L24.1 348.4 L22.5 347.3 L21.5 346.1 L20.9 344.9 L20.6 343.7 L20.6 342.5 L20.9 341.4 L21.5 340.2 L22.6 338.9 L20.9 337.8 L19.8 336.5 L19.3 335.3 L19.0 334.1 L19.0 332.9 L19.4 331.6 L20.0 330.4 L21.2 329.1 L23.1 328.0 L25.5 327.4 Z" fill="#7c7c7c" opacity="0.55" transform="translate(3.6,4.6)" filter="url(#blur1)"/>
<path d="M25.5 327.3 L25.4 325.8 L25.6 324.2 L26.1 322.7 L27.0 321.1 L28.4 319.5 L30.4 318.1 L33.1 316.9 L36.3 316.4 L39.5 316.7 L42.4 317.7 L43.0 316.8 L44.0 315.9 L45.1 315.1 L46.6 314.4 L48.3 313.9 L50.2 313.7 L52.1 313.9 L53.8 314.4 L55.3 315.1 L56.4 315.9 L57.0 315.1 L57.8 314.3 L58.9 313.5 L60.3 312.9 L61.9 312.5 L63.6 312.5 L65.3 312.8 L66.7 313.4 L67.9 314.1 L68.7 314.9 L70.0 313.9 L71.7 313.0 L73.8 312.5 L76.0 312.5 L78.1 313.0 L79.8 313.9 L81.1 314.9 L82.0 316.0 L82.5 317.1 L82.9 318.1 L84.9 318.8 L86.4 319.8 L87.6 320.9 L88.4 322.0 L89.0 323.1 L89.3 324.2 L89.4 325.2 L89.4 326.3 L89.1 327.3 L88.7 328.4 L89.9 330.1 L90.6 331.8 L91.0 333.4 L91.0 335.0 L90.7 336.6 L90.0 338.3 L88.8 340.0 L87.1 341.6 L84.5 343.0 L81.3 343.8 L81.2 345.0 L80.9 346.2 L80.3 347.5 L79.4 348.7 L78.0 349.9 L76.2 351.0 L73.9 351.7 L71.3 351.9 L68.8 351.5 L66.6 350.7 L65.9 352.2 L64.9 353.6 L63.3 355.1 L61.2 356.4 L58.5 357.2 L55.4 357.5 L52.4 357.1 L49.9 356.0 L47.9 354.7 L46.5 353.2 L44.6 354.0 L42.5 354.6 L40.2 354.8 L37.9 354.7 L35.7 354.2 L33.7 353.5 L32.1 352.6 L30.7 351.5 L29.6 350.4 L28.7 349.3 L26.2 349.2 L24.1 348.4 L22.5 347.3 L21.5 346.1 L20.9 344.9 L20.6 343.7 L20.6 342.5 L20.9 341.4 L21.5 340.2 L22.6 338.9 L20.9 337.8 L19.8 336.5 L19.3 335.3 L19.0 334.1 L19.0 332.9 L19.4 331.6 L20.0 330.4 L21.2 329.1 L23.1 328.0 L25.5 327.4 Z" fill="url(#cg8)"/>
<path d="M87.5 356.8 L87.4 355.3 L87.6 353.9 L88.1 352.4 L89.0 350.8 L90.3 349.3 L92.3 347.9 L95.0 346.8 L98.2 346.3 L101.4 346.6 L104.2 347.6 L104.9 346.7 L105.8 345.8 L106.9 345.0 L108.4 344.3 L110.1 343.9 L112.0 343.7 L113.8 343.8 L115.5 344.3 L117.0 345.0 L118.2 345.8 L118.8 345.0 L119.6 344.2 L120.7 343.5 L122.0 342.9 L123.6 342.5 L125.3 342.5 L127.0 342.8 L128.4 343.3 L129.5 344.0 L130.4 344.8 L131.7 343.8 L133.3 343.0 L135.4 342.5 L137.6 342.5 L139.7 343.0 L141.4 343.8 L142.7 344.8 L143.5 345.9 L144.1 346.9 L144.4 347.9 L146.4 348.6 L148.0 349.5 L149.1 350.6 L149.9 351.7 L150.5 352.7 L150.8 353.8 L150.9 354.8 L150.9 355.8 L150.6 356.8 L150.2 357.9 L151.4 359.5 L152.1 361.1 L152.5 362.7 L152.5 364.3 L152.2 365.8 L151.5 367.4 L150.4 369.1 L148.6 370.6 L146.1 372.0 L142.9 372.8 L142.8 373.9 L142.5 375.1 L141.9 376.3 L140.9 377.5 L139.6 378.7 L137.8 379.7 L135.5 380.4 L132.9 380.6 L130.4 380.2 L128.3 379.4 L127.6 380.8 L126.5 382.3 L125.0 383.7 L122.9 384.9 L120.2 385.8 L117.2 386.0 L114.2 385.6 L111.7 384.6 L109.7 383.3 L108.3 381.9 L106.4 382.7 L104.3 383.2 L102.0 383.4 L99.7 383.3 L97.6 382.8 L95.6 382.1 L94.0 381.2 L92.6 380.2 L91.5 379.1 L90.6 378.1 L88.2 377.9 L86.0 377.2 L84.5 376.1 L83.5 375.0 L82.9 373.8 L82.6 372.7 L82.6 371.5 L82.9 370.4 L83.5 369.2 L84.5 368.1 L82.9 367.0 L81.8 365.7 L81.2 364.5 L81.0 363.3 L81.0 362.2 L81.4 361.0 L82.0 359.8 L83.2 358.6 L85.0 357.5 L87.4 356.9 Z" fill="#7c7c7c" opacity="0.55" transform="translate(3.6,4.6)" filter="url(#blur1)"/>
<path d="M87.5 356.8 L87.4 355.3 L87.6 353.9 L88.1 352.4 L89.0 350.8 L90.3 349.3 L92.3 347.9 L95.0 346.8 L98.2 346.3 L101.4 346.6 L104.2 347.6 L104.9 346.7 L105.8 345.8 L106.9 345.0 L108.4 344.3 L110.1 343.9 L112.0 343.7 L113.8 343.8 L115.5 344.3 L117.0 345.0 L118.2 345.8 L118.8 345.0 L119.6 344.2 L120.7 343.5 L122.0 342.9 L123.6 342.5 L125.3 342.5 L127.0 342.8 L128.4 343.3 L129.5 344.0 L130.4 344.8 L131.7 343.8 L133.3 343.0 L135.4 342.5 L137.6 342.5 L139.7 343.0 L141.4 343.8 L142.7 344.8 L143.5 345.9 L144.1 346.9 L144.4 347.9 L146.4 348.6 L148.0 349.5 L149.1 350.6 L149.9 351.7 L150.5 352.7 L150.8 353.8 L150.9 354.8 L150.9 355.8 L150.6 356.8 L150.2 357.9 L151.4 359.5 L152.1 361.1 L152.5 362.7 L152.5 364.3 L152.2 365.8 L151.5 367.4 L150.4 369.1 L148.6 370.6 L146.1 372.0 L142.9 372.8 L142.8 373.9 L142.5 375.1 L141.9 376.3 L140.9 377.5 L139.6 378.7 L137.8 379.7 L135.5 380.4 L132.9 380.6 L130.4 380.2 L128.3 379.4 L127.6 380.8 L126.5 382.3 L125.0 383.7 L122.9 384.9 L120.2 385.8 L117.2 386.0 L114.2 385.6 L111.7 384.6 L109.7 383.3 L108.3 381.9 L106.4 382.7 L104.3 383.2 L102.0 383.4 L99.7 383.3 L97.6 382.8 L95.6 382.1 L94.0 381.2 L92.6 380.2 L91.5 379.1 L90.6 378.1 L88.2 377.9 L86.0 377.2 L84.5 376.1 L83.5 375.0 L82.9 373.8 L82.6 372.7 L82.6 371.5 L82.9 370.4 L83.5 369.2 L84.5 368.1 L82.9 367.0 L81.8 365.7 L81.2 364.5 L81.0 363.3 L81.0 362.2 L81.4 361.0 L82.0 359.8 L83.2 358.6 L85.0 357.5 L87.4 356.9 Z" fill="url(#cg9)"/>
<path d="M161.7 365.2 L161.6 364.0 L161.8 362.9 L162.2 361.7 L163.1 360.5 L164.4 359.3 L166.3 358.2 L168.8 357.3 L171.8 357.0 L174.9 357.2 L177.6 358.0 L178.2 357.3 L179.1 356.6 L180.2 356.0 L181.6 355.4 L183.2 355.1 L185.0 354.9 L186.7 355.1 L188.4 355.4 L189.7 355.9 L190.9 356.6 L191.4 355.9 L192.2 355.3 L193.2 354.8 L194.5 354.3 L196.0 354.0 L197.7 354.0 L199.2 354.2 L200.6 354.7 L201.6 355.2 L202.5 355.8 L203.7 355.0 L205.3 354.4 L207.3 354.0 L209.4 354.0 L211.3 354.4 L212.9 355.1 L214.1 355.8 L215.0 356.6 L215.5 357.5 L215.8 358.3 L217.7 358.8 L219.2 359.5 L220.3 360.3 L221.1 361.2 L221.6 362.0 L221.9 362.8 L222.0 363.6 L222.0 364.4 L221.7 365.2 L221.3 366.0 L222.5 367.3 L223.2 368.6 L223.5 369.8 L223.5 371.0 L223.2 372.2 L222.6 373.5 L221.5 374.8 L219.8 376.0 L217.4 377.0 L214.4 377.6 L214.3 378.6 L214.0 379.5 L213.4 380.4 L212.5 381.4 L211.2 382.3 L209.5 383.1 L207.3 383.6 L204.9 383.8 L202.5 383.5 L200.5 382.9 L199.8 384.0 L198.8 385.1 L197.3 386.2 L195.3 387.1 L192.8 387.8 L189.9 388.0 L187.1 387.7 L184.7 386.9 L182.8 385.9 L181.5 384.8 L179.7 385.4 L177.7 385.8 L175.5 386.0 L173.3 385.9 L171.3 385.5 L169.4 385.0 L167.8 384.3 L166.5 383.5 L165.5 382.6 L164.7 381.8 L162.3 381.7 L160.3 381.1 L158.8 380.3 L157.8 379.4 L157.3 378.5 L157.0 377.6 L157.0 376.7 L157.3 375.8 L157.9 374.9 L158.9 374.0 L157.3 373.1 L156.3 372.2 L155.7 371.2 L155.5 370.3 L155.5 369.4 L155.8 368.5 L156.5 367.5 L157.6 366.6 L159.3 365.7 L161.6 365.3 Z" fill="#7c7c7c" opacity="0.55" transform="translate(3.6,4.6)" filter="url(#blur1)"/>
<path d="M161.7 365.2 L161.6 364.0 L161.8 362.9 L162.2 361.7 L163.1 360.5 L164.4 359.3 L166.3 358.2 L168.8 357.3 L171.8 357.0 L174.9 357.2 L177.6 358.0 L178.2 357.3 L179.1 356.6 L180.2 356.0 L181.6 355.4 L183.2 355.1 L185.0 354.9 L186.7 355.1 L188.4 355.4 L189.7 355.9 L190.9 356.6 L191.4 355.9 L192.2 355.3 L193.2 354.8 L194.5 354.3 L196.0 354.0 L197.7 354.0 L199.2 354.2 L200.6 354.7 L201.6 355.2 L202.5 355.8 L203.7 355.0 L205.3 354.4 L207.3 354.0 L209.4 354.0 L211.3 354.4 L212.9 355.1 L214.1 355.8 L215.0 356.6 L215.5 357.5 L215.8 358.3 L217.7 358.8 L219.2 359.5 L220.3 360.3 L221.1 361.2 L221.6 362.0 L221.9 362.8 L222.0 363.6 L222.0 364.4 L221.7 365.2 L221.3 366.0 L222.5 367.3 L223.2 368.6 L223.5 369.8 L223.5 371.0 L223.2 372.2 L222.6 373.5 L221.5 374.8 L219.8 376.0 L217.4 377.0 L214.4 377.6 L214.3 378.6 L214.0 379.5 L213.4 380.4 L212.5 381.4 L211.2 382.3 L209.5 383.1 L207.3 383.6 L204.9 383.8 L202.5 383.5 L200.5 382.9 L199.8 384.0 L198.8 385.1 L197.3 386.2 L195.3 387.1 L192.8 387.8 L189.9 388.0 L187.1 387.7 L184.7 386.9 L182.8 385.9 L181.5 384.8 L179.7 385.4 L177.7 385.8 L175.5 386.0 L173.3 385.9 L171.3 385.5 L169.4 385.0 L167.8 384.3 L166.5 383.5 L165.5 382.6 L164.7 381.8 L162.3 381.7 L160.3 381.1 L158.8 380.3 L157.8 379.4 L157.3 378.5 L157.0 377.6 L157.0 376.7 L157.3 375.8 L157.9 374.9 L158.9 374.0 L157.3 373.1 L156.3 372.2 L155.7 371.2 L155.5 370.3 L155.5 369.4 L155.8 368.5 L156.5 367.5 L157.6 366.6 L159.3 365.7 L161.6 365.3 Z" fill="url(#cg10)"/>
<path d="M232.2 350.7 L232.1 349.3 L232.3 347.9 L232.8 346.6 L233.8 345.2 L235.3 343.7 L237.5 342.4 L240.5 341.4 L244.0 341.0 L247.5 341.3 L250.6 342.2 L251.4 341.3 L252.4 340.5 L253.7 339.8 L255.3 339.2 L257.2 338.7 L259.2 338.6 L261.3 338.7 L263.2 339.2 L264.8 339.8 L266.1 340.5 L266.7 339.8 L267.6 339.1 L268.8 338.4 L270.3 337.8 L272.1 337.5 L274.0 337.5 L275.8 337.8 L277.4 338.3 L278.6 338.9 L279.6 339.6 L281.0 338.7 L282.8 338.0 L285.1 337.5 L287.6 337.5 L289.9 338.0 L291.7 338.7 L293.1 339.7 L294.1 340.6 L294.7 341.6 L295.1 342.5 L297.3 343.1 L299.0 344.0 L300.3 344.9 L301.2 345.9 L301.8 346.9 L302.1 347.9 L302.3 348.8 L302.2 349.7 L302.0 350.7 L301.5 351.7 L302.8 353.2 L303.6 354.6 L304.0 356.1 L304.0 357.5 L303.7 358.9 L302.9 360.4 L301.6 361.9 L299.7 363.4 L296.9 364.6 L293.4 365.3 L293.3 366.4 L292.9 367.5 L292.2 368.6 L291.2 369.7 L289.7 370.8 L287.7 371.7 L285.2 372.4 L282.4 372.5 L279.6 372.2 L277.2 371.4 L276.5 372.7 L275.3 374.1 L273.6 375.4 L271.3 376.5 L268.3 377.3 L265.0 377.5 L261.7 377.1 L258.9 376.2 L256.7 375.0 L255.2 373.7 L253.1 374.4 L250.8 374.9 L248.2 375.1 L245.7 375.0 L243.3 374.6 L241.2 373.9 L239.3 373.1 L237.8 372.2 L236.6 371.2 L235.7 370.2 L232.9 370.1 L230.5 369.4 L228.8 368.4 L227.7 367.4 L227.1 366.3 L226.8 365.2 L226.8 364.2 L227.1 363.2 L227.8 362.1 L228.9 361.0 L227.1 360.0 L225.9 358.9 L225.3 357.8 L225.0 356.7 L225.0 355.6 L225.4 354.5 L226.1 353.4 L227.4 352.3 L229.4 351.3 L232.1 350.8 Z" fill="#7c7c7c" opacity="0.55" transform="translate(3.6,4.6)" filter="url(#blur1)"/>
<path d="M232.2 350.7 L232.1 349.3 L232.3 347.9 L232.8 346.6 L233.8 345.2 L235.3 343.7 L237.5 342.4 L240.5 341.4 L244.0 341.0 L247.5 341.3 L250.6 342.2 L251.4 341.3 L252.4 340.5 L253.7 339.8 L255.3 339.2 L257.2 338.7 L259.2 338.6 L261.3 338.7 L263.2 339.2 L264.8 339.8 L266.1 340.5 L266.7 339.8 L267.6 339.1 L268.8 338.4 L270.3 337.8 L272.1 337.5 L274.0 337.5 L275.8 337.8 L277.4 338.3 L278.6 338.9 L279.6 339.6 L281.0 338.7 L282.8 338.0 L285.1 337.5 L287.6 337.5 L289.9 338.0 L291.7 338.7 L293.1 339.7 L294.1 340.6 L294.7 341.6 L295.1 342.5 L297.3 343.1 L299.0 344.0 L300.3 344.9 L301.2 345.9 L301.8 346.9 L302.1 347.9 L302.3 348.8 L302.2 349.7 L302.0 350.7 L301.5 351.7 L302.8 353.2 L303.6 354.6 L304.0 356.1 L304.0 357.5 L303.7 358.9 L302.9 360.4 L301.6 361.9 L299.7 363.4 L296.9 364.6 L293.4 365.3 L293.3 366.4 L292.9 367.5 L292.2 368.6 L291.2 369.7 L289.7 370.8 L287.7 371.7 L285.2 372.4 L282.4 372.5 L279.6 372.2 L277.2 371.4 L276.5 372.7 L275.3 374.1 L273.6 375.4 L271.3 376.5 L268.3 377.3 L265.0 377.5 L261.7 377.1 L258.9 376.2 L256.7 375.0 L255.2 373.7 L253.1 374.4 L250.8 374.9 L248.2 375.1 L245.7 375.0 L243.3 374.6 L241.2 373.9 L239.3 373.1 L237.8 372.2 L236.6 371.2 L235.7 370.2 L232.9 370.1 L230.5 369.4 L228.8 368.4 L227.7 367.4 L227.1 366.3 L226.8 365.2 L226.8 364.2 L227.1 363.2 L227.8 362.1 L228.9 361.0 L227.1 360.0 L225.9 358.9 L225.3 357.8 L225.0 356.7 L225.0 355.6 L225.4 354.5 L226.1 353.4 L227.4 352.3 L229.4 351.3 L232.1 350.8 Z" fill="url(#cg11)"/>
<path d="M273.1 299.5 L273.0 298.0 L273.2 296.5 L273.7 295.0 L274.7 293.4 L276.2 291.9 L278.4 290.4 L281.3 289.3 L284.7 288.9 L288.2 289.2 L291.3 290.1 L292.0 289.2 L293.0 288.4 L294.3 287.5 L295.9 286.8 L297.8 286.4 L299.8 286.2 L301.8 286.4 L303.7 286.8 L305.3 287.5 L306.6 288.3 L307.2 287.5 L308.1 286.7 L309.3 286.0 L310.8 285.4 L312.5 285.0 L314.4 285.0 L316.1 285.3 L317.7 285.8 L318.9 286.6 L319.9 287.4 L321.3 286.4 L323.1 285.5 L325.4 285.0 L327.8 285.0 L330.0 285.5 L331.9 286.4 L333.3 287.4 L334.2 288.4 L334.8 289.5 L335.2 290.5 L337.3 291.2 L339.1 292.1 L340.3 293.2 L341.2 294.3 L341.8 295.3 L342.1 296.4 L342.3 297.4 L342.2 298.5 L342.0 299.5 L341.5 300.6 L342.8 302.2 L343.6 303.8 L344.0 305.4 L344.0 307.0 L343.7 308.6 L342.9 310.2 L341.7 311.9 L339.7 313.5 L337.0 314.8 L333.5 315.6 L333.4 316.8 L333.0 318.0 L332.4 319.2 L331.4 320.4 L329.9 321.6 L327.9 322.6 L325.4 323.4 L322.6 323.5 L319.9 323.2 L317.6 322.3 L316.8 323.8 L315.7 325.2 L314.0 326.6 L311.7 327.9 L308.8 328.7 L305.5 329.0 L302.2 328.6 L299.5 327.6 L297.3 326.3 L295.8 324.8 L293.7 325.6 L291.4 326.1 L289.0 326.4 L286.5 326.2 L284.1 325.8 L282.0 325.1 L280.1 324.2 L278.6 323.1 L277.5 322.1 L276.5 321.0 L273.8 320.9 L271.5 320.1 L269.8 319.0 L268.7 317.8 L268.0 316.7 L267.8 315.5 L267.8 314.4 L268.1 313.2 L268.7 312.0 L269.9 310.9 L268.1 309.7 L266.9 308.5 L266.3 307.3 L266.0 306.1 L266.0 304.9 L266.4 303.7 L267.1 302.5 L268.4 301.2 L270.4 300.2 L273.0 299.6 Z" fill="#7c7c7c" opacity="0.55" transform="translate(3.6,4.6)" filter="url(#blur1)"/>
<path d="M273.1 299.5 L273.0 298.0 L273.2 296.5 L273.7 295.0 L274.7 293.4 L276.2 291.9 L278.4 290.4 L281.3 289.3 L284.7 288.9 L288.2 289.2 L291.3 290.1 L292.0 289.2 L293.0 288.4 L294.3 287.5 L295.9 286.8 L297.8 286.4 L299.8 286.2 L301.8 286.4 L303.7 286.8 L305.3 287.5 L306.6 288.3 L307.2 287.5 L308.1 286.7 L309.3 286.0 L310.8 285.4 L312.5 285.0 L314.4 285.0 L316.1 285.3 L317.7 285.8 L318.9 286.6 L319.9 287.4 L321.3 286.4 L323.1 285.5 L325.4 285.0 L327.8 285.0 L330.0 285.5 L331.9 286.4 L333.3 287.4 L334.2 288.4 L334.8 289.5 L335.2 290.5 L337.3 291.2 L339.1 292.1 L340.3 293.2 L341.2 294.3 L341.8 295.3 L342.1 296.4 L342.3 297.4 L342.2 298.5 L342.0 299.5 L341.5 300.6 L342.8 302.2 L343.6 303.8 L344.0 305.4 L344.0 307.0 L343.7 308.6 L342.9 310.2 L341.7 311.9 L339.7 313.5 L337.0 314.8 L333.5 315.6 L333.4 316.8 L333.0 318.0 L332.4 319.2 L331.4 320.4 L329.9 321.6 L327.9 322.6 L325.4 323.4 L322.6 323.5 L319.9 323.2 L317.6 322.3 L316.8 323.8 L315.7 325.2 L314.0 326.6 L311.7 327.9 L308.8 328.7 L305.5 329.0 L302.2 328.6 L299.5 327.6 L297.3 326.3 L295.8 324.8 L293.7 325.6 L291.4 326.1 L289.0 326.4 L286.5 326.2 L284.1 325.8 L282.0 325.1 L280.1 324.2 L278.6 323.1 L277.5 322.1 L276.5 321.0 L273.8 320.9 L271.5 320.1 L269.8 319.0 L268.7 317.8 L268.0 316.7 L267.8 315.5 L267.8 314.4 L268.1 313.2 L268.7 312.0 L269.9 310.9 L268.1 309.7 L266.9 308.5 L266.3 307.3 L266.0 306.1 L266.0 304.9 L266.4 303.7 L267.1 302.5 L268.4 301.2 L270.4 300.2 L273.0 299.6 Z" fill="url(#cg12)"/>
<ellipse cx="170" cy="170.3" rx="20" ry="20.2" fill="#777" opacity="0.3" filter="url(#blur1)"/>
<ellipse cx="169" cy="168.8" rx="20" ry="20.2" fill="url(#bg0)"/>
<ellipse cx="169" cy="168.8" rx="19.4" ry="19.599999999999998" fill="none" stroke="#f07070" stroke-width="1" opacity="0.55"/>
<ellipse cx="249.7" cy="199.2" rx="19.9" ry="18.5" fill="#777" opacity="0.3" filter="url(#blur1)"/>
<ellipse cx="248.7" cy="197.7" rx="19.9" ry="18.5" fill="url(#bg1)"/>
<ellipse cx="248.7" cy="197.7" rx="19.299999999999997" ry="17.9" fill="none" stroke="#c8ec98" stroke-width="1" opacity="0.55"/>
<ellipse cx="97.3" cy="202.8" rx="20.6" ry="18.3" fill="#777" opacity="0.3" filter="url(#blur1)"/>
<ellipse cx="96.3" cy="201.3" rx="20.6" ry="18.3" fill="url(#bg2)"/>
<ellipse cx="96.3" cy="201.3" rx="20.0" ry="17.7" fill="none" stroke="#f0d070" stroke-width="1" opacity="0.55"/>
<ellipse cx="104.9" cy="287.5" rx="19.8" ry="19.8" fill="#777" opacity="0.3" filter="url(#blur1)"/>
<ellipse cx="103.9" cy="286" rx="19.8" ry="19.8" fill="url(#bg3)"/>
<ellipse cx="103.9" cy="286" rx="19.2" ry="19.2" fill="none" stroke="#a8d070" stroke-width="1" opacity="0.55"/>
<ellipse cx="185.2" cy="324.0" rx="20.2" ry="18.2" fill="#777" opacity="0.3" filter="url(#blur1)"/>
<ellipse cx="184.2" cy="322.5" rx="20.2" ry="18.2" fill="url(#bg4)"/>
<ellipse cx="184.2" cy="322.5" rx="19.599999999999998" ry="17.599999999999998" fill="none" stroke="#e8a060" stroke-width="1" opacity="0.55"/>
<ellipse cx="250.75" cy="288.0" rx="20" ry="20.2" fill="#777" opacity="0.3" filter="url(#blur1)"/>
<ellipse cx="249.75" cy="286.5" rx="20" ry="20.2" fill="url(#bg5)"/>
<ellipse cx="249.75" cy="286.5" rx="19.4" ry="19.599999999999998" fill="none" stroke="#6078b8" stroke-width="1" opacity="0.55"/>
<path d="M117.5 134.5 L135.6 156.3" stroke="#7a6ec6" stroke-width="2.6" fill="none"/><path d="M134.3 146.5 L136.6 157.4 L126.2 153.2" stroke="#7a6ec6" stroke-width="3.1" fill="none" stroke-linecap="round" stroke-linejoin="round"/>
<path d="M81.7 160.8 L101.6 174.4" stroke="#7a6ec6" stroke-width="2.6" fill="none"/><path d="M97.6 165.3 L102.8 175.2 L91.7 174.0" stroke="#7a6ec6" stroke-width="3.1" fill="none" stroke-linecap="round" stroke-linejoin="round"/>
<path d="M201.0 135.0 L196.7 153.2" stroke="#7a6ec6" stroke-width="2.6" fill="none"/><path d="M203.7 146.2 L196.3 154.6 L193.5 143.8" stroke="#7a6ec6" stroke-width="3.1" fill="none" stroke-linecap="round" stroke-linejoin="round"/>
<path d="M250.0 154.0 L237.9 167.8" stroke="#7a6ec6" stroke-width="2.6" fill="none"/><path d="M247.4 165.0 L236.9 168.9 L239.5 158.0" stroke="#7a6ec6" stroke-width="3.1" fill="none" stroke-linecap="round" stroke-linejoin="round"/>
<path d="M305.0 200.0 L281.7 209.0" stroke="#7a6ec6" stroke-width="2.6" fill="none"/><path d="M291.4 210.9 L280.3 209.5 L287.6 201.0" stroke="#7a6ec6" stroke-width="3.1" fill="none" stroke-linecap="round" stroke-linejoin="round"/>
<path d="M57.5 243.8 L75.8 243.8" stroke="#7a6ec6" stroke-width="2.6" fill="none"/><path d="M67.5 238.5 L77.3 243.8 L67.5 249.0" stroke="#7a6ec6" stroke-width="3.1" fill="none" stroke-linecap="round" stroke-linejoin="round"/>
<path d="M66.0 282.5 L83.3 275.1" stroke="#7a6ec6" stroke-width="2.6" fill="none"/><path d="M73.6 273.6 L84.7 274.5 L77.7 283.3" stroke="#7a6ec6" stroke-width="3.1" fill="none" stroke-linecap="round" stroke-linejoin="round"/>
<path d="M86.0 322.5 L104.9 313.7" stroke="#7a6ec6" stroke-width="2.6" fill="none"/><path d="M95.0 312.5 L106.2 313.1 L99.5 322.0" stroke="#7a6ec6" stroke-width="3.1" fill="none" stroke-linecap="round" stroke-linejoin="round"/>
<path d="M117.5 345.0 L132.2 326.3" stroke="#7a6ec6" stroke-width="2.6" fill="none"/><path d="M122.9 329.6 L133.1 325.1 L131.2 336.1" stroke="#7a6ec6" stroke-width="3.1" fill="none" stroke-linecap="round" stroke-linejoin="round"/>
<path d="M187.5 354.0 L185.3 333.9" stroke="#7a6ec6" stroke-width="2.6" fill="none"/><path d="M181.0 342.8 L185.2 332.4 L191.4 341.7" stroke="#7a6ec6" stroke-width="3.1" fill="none" stroke-linecap="round" stroke-linejoin="round"/>
<path d="M245.0 337.5 L232.9 323.2" stroke="#7a6ec6" stroke-width="2.6" fill="none"/><path d="M234.3 333.0 L231.9 322.1 L242.3 326.2" stroke="#7a6ec6" stroke-width="3.1" fill="none" stroke-linecap="round" stroke-linejoin="round"/>
<path d="M304.0 286.0 L276.6 273.7" stroke="#7a6ec6" stroke-width="2.6" fill="none"/><path d="M282.1 281.9 L275.3 273.1 L286.5 272.3" stroke="#7a6ec6" stroke-width="3.1" fill="none" stroke-linecap="round" stroke-linejoin="round"/>
<path d="M359.5 150.0 L373.1 150.0" stroke="#7a6ec6" stroke-width="2.6" fill="none"/><path d="M364.7 144.7 L374.6 150.0 L364.7 155.3" stroke="#7a6ec6" stroke-width="3.1" fill="none" stroke-linecap="round" stroke-linejoin="round"/>
<path d="M268.0 244.0 L374.6 244.0" stroke="#7a6ec6" stroke-width="2.6" fill="none"/><path d="M366.2 238.7 L376.1 244.0 L366.2 249.3" stroke="#7a6ec6" stroke-width="3.1" fill="none" stroke-linecap="round" stroke-linejoin="round"/>
<path d="M359.5 342.5 L378.1 342.5" stroke="#7a6ec6" stroke-width="2.6" fill="none"/><path d="M369.7 337.2 L379.6 342.5 L369.7 347.8" stroke="#7a6ec6" stroke-width="3.1" fill="none" stroke-linecap="round" stroke-linejoin="round"/>
<path d="M455.0 145.0 L478.1 145.0" stroke="#7a6ec6" stroke-width="2.6" fill="none"/><path d="M469.7 139.7 L479.6 145.0 L469.7 150.3" stroke="#7a6ec6" stroke-width="3.1" fill="none" stroke-linecap="round" stroke-linejoin="round"/>
<path d="M455.0 241.0 L477.1 241.0" stroke="#7a6ec6" stroke-width="2.6" fill="none"/><path d="M468.7 235.7 L478.6 241.0 L468.7 246.3" stroke="#7a6ec6" stroke-width="3.1" fill="none" stroke-linecap="round" stroke-linejoin="round"/>
<path d="M457.0 341.0 L482.1 341.0" stroke="#7a6ec6" stroke-width="2.6" fill="none"/><path d="M473.7 335.7 L483.6 341.0 L473.7 346.3" stroke="#7a6ec6" stroke-width="3.1" fill="none" stroke-linecap="round" stroke-linejoin="round"/>
<path d="M359.5 148.5 L359.5 344" stroke="#7870c4" stroke-width="2.8" fill="none"/>
<path d="M66 194 L77 198" stroke="#7870c4" stroke-width="2.8" fill="none"/>
<rect x="379.0" y="123" width="77.5" height="56.5" rx="9" fill="#8078a8" opacity="0.4" filter="url(#blur1)"/>
<rect x="377.5" y="121" width="77.5" height="56.5" rx="9" fill="url(#boxg)"/>
<rect x="380.5" y="217" width="76" height="59" rx="9" fill="#8078a8" opacity="0.4" filter="url(#blur1)"/>
<rect x="379" y="215" width="76" height="59" rx="9" fill="url(#boxg)"/>
<rect x="385.5" y="314.5" width="73" height="56.5" rx="9" fill="#8078a8" opacity="0.4" filter="url(#blur1)"/>
<rect x="384" y="312.5" width="73" height="56.5" rx="9" fill="url(#boxg)"/>
<rect x="485.6" y="85" width="153.60000000000002" height="99.75" rx="12.5" fill="#96cf52" stroke="#111" stroke-width="2.2" stroke-dasharray="7.6 6.2"/>
<rect x="484.5" y="192.9" width="154.70000000000005" height="104.99999999999997" rx="12.5" fill="#96cf52" stroke="#111" stroke-width="2.2" stroke-dasharray="7.6 6.2"/>
<rect x="487" y="306.25" width="152.20000000000005" height="70.35000000000002" rx="12.5" fill="#96cf52" stroke="#111" stroke-width="2.2" stroke-dasharray="7.6 6.2"/>
<circle cx="498" cy="189.4" r="1.5" fill="#1a2040"/>
<path d="M0 389.5 L638 389.5" stroke="#555" stroke-width="1" stroke-dasharray="1.5 1" fill="none"/>
</svg>
<div class="t cw" style="left:88.3px;top:97.9px;font-size:13.0px;letter-spacing:-0.6px;">电能质量</div>
<div class="t cw" style="left:88.3px;top:112.9px;font-size:13.0px;letter-spacing:-0.6px;">监测系统</div>
<div class="t cw" style="left:178.3px;top:96.4px;font-size:13.0px;letter-spacing:-0.6px;">地理信息</div>
<div class="t cw" style="left:184.3px;top:112.9px;font-size:13.0px;letter-spacing:-0.6px;">系统</div>
<div class="t cw" style="left:245.3px;top:119.9px;font-size:13.0px;letter-spacing:-0.6px;">用电信息</div>
<div class="t cw" style="left:245.3px;top:136.4px;font-size:13.0px;letter-spacing:-0.6px;">采集系统</div>
<div class="t cw" style="left:273.4px;top:174.4px;font-size:13.0px;letter-spacing:-0.6px;">配电自动化</div>
<div class="t cw" style="left:23.4px;top:133.9px;font-size:13.0px;letter-spacing:-0.6px;">调度自动</div>
<div class="t cw" style="left:30.4px;top:147.9px;font-size:13.0px;letter-spacing:-0.6px;">化系统</div>
<div class="t cw" style="left:4.3px;top:179.9px;font-size:13.0px;letter-spacing:-0.6px;">生产管理</div>
<div class="t cw" style="left:18.4px;top:194.9px;font-size:13.0px;letter-spacing:-0.6px;">系统</div>
<div class="t cw" style="left:6.8px;top:229.9px;font-size:13.0px;letter-spacing:-0.6px;">负荷控</div>
<div class="t cw" style="left:6.8px;top:244.9px;font-size:13.0px;letter-spacing:-0.6px;">制系统</div>
<div class="t cw" style="left:11.8px;top:277.9px;font-size:13.0px;letter-spacing:-0.6px;">负荷监</div>
<div class="t cw" style="left:13.3px;top:292.9px;font-size:13.0px;letter-spacing:-0.6px;">测系统</div>
<div class="t cw" style="left:29.4px;top:321.4px;font-size:13.0px;letter-spacing:-0.6px;">营销业务</div>
<div class="t cw" style="left:26.9px;top:337.9px;font-size:13.0px;letter-spacing:-0.6px;">应用系统</div>
<div class="t cw" style="left:88.3px;top:351.4px;font-size:13.0px;letter-spacing:-0.6px;">电网气象</div>
<div class="t cw" style="left:88.3px;top:367.9px;font-size:13.0px;letter-spacing:-0.6px;">信息系统</div>
<div class="t cw" style="left:160.3px;top:365.4px;font-size:13.0px;letter-spacing:-0.6px;">ERP系统</div>
<div class="t cw" style="left:241.8px;top:344.9px;font-size:13.0px;letter-spacing:-0.6px;">95598客</div>
<div class="t cw" style="left:241.8px;top:358.9px;font-size:13.0px;letter-spacing:-0.6px;">服系统</div>
<div class="t cw" style="left:275.4px;top:292.9px;font-size:13.0px;letter-spacing:-0.6px;">地区社会</div>
<div class="t cw" style="left:276.9px;top:307.9px;font-size:13.0px;letter-spacing:-0.6px;">经济数据</div>
<div class="t cw cb" style="left:154.2px;top:161.4px;font-size:15.0px;letter-spacing:-0.8px;">运检</div>
<div class="t cw cb" style="left:234.1px;top:188.9px;font-size:15.0px;letter-spacing:-0.8px;">规划</div>
<div class="t cw cb" style="left:81.8px;top:193.7px;font-size:15.0px;letter-spacing:-0.8px;">调度</div>
<div class="t cw cb" style="left:89.2px;top:278.8px;font-size:15.0px;letter-spacing:-0.8px;">营销</div>
<div class="t cw cb" style="left:169.7px;top:314.4px;font-size:15.0px;letter-spacing:-0.8px;">信通</div>
<div class="t cw cb" style="left:235.2px;top:278.6px;font-size:15.0px;letter-spacing:-0.8px;">其它</div>
<div class="t" style="left:129.9px;top:230.6px;font-size:18px;letter-spacing:-0.2px;color:#fff;font-family:'Liberation Serif',serif;text-shadow:0 0 1px rgba(0,0,0,.3)">典型配电网</div>
<div class="t " style="left:388.1px;top:130.3px;font-size:19.0px;letter-spacing:-0.4px;color:#262626">配电侧</div>
<div class="t " style="left:398.1px;top:151.1px;font-size:19.0px;letter-spacing:-0.4px;color:#262626">数据</div>
<div class="t " style="left:390.1px;top:225.3px;font-size:19.0px;letter-spacing:-0.4px;color:#262626">用电侧</div>
<div class="t " style="left:398.1px;top:246.8px;font-size:19.0px;letter-spacing:-0.4px;color:#262626">数据</div>
<div class="t " style="left:401.6px;top:321.1px;font-size:19.0px;letter-spacing:-0.4px;color:#262626">外部</div>
<div class="t " style="left:401.6px;top:343.1px;font-size:19.0px;letter-spacing:-0.4px;color:#262626">数据</div>
<div style="position:absolute;left:496.0px;top:98.5px;width:3px;height:3px;border-radius:50%;background:#1e2a10"></div>
<div class="t g" style="left:507.4px;top:93.9px;font-size:13px;letter-spacing:-0.6px">配电设备台账数据</div>
<div style="position:absolute;left:496.0px;top:112.9px;width:3px;height:3px;border-radius:50%;background:#1e2a10"></div>
<div class="t g" style="left:507.4px;top:108.3px;font-size:13px;letter-spacing:-0.6px">主<span style="margin:0 1.8px">/</span>配网网架数据</div>
<div style="position:absolute;left:496.0px;top:129.3px;width:3px;height:3px;border-radius:50%;background:#1e2a10"></div>
<div class="t g" style="left:507.4px;top:124.7px;font-size:13px;letter-spacing:-0.6px"><span style="margin-left:9px">“</span>三遥<span style="margin-left:0.5px;margin-right:9px">”</span>数据</div>
<div style="position:absolute;left:496.0px;top:143.8px;width:3px;height:3px;border-radius:50%;background:#1e2a10"></div>
<div class="t g" style="left:507.4px;top:139.2px;font-size:13px;letter-spacing:-0.6px">相角及运行数据</div>
<div style="position:absolute;left:496.0px;top:159.3px;width:3px;height:3px;border-radius:50%;background:#1e2a10"></div>
<div class="t g" style="left:507.4px;top:154.7px;font-size:13px;letter-spacing:-0.6px">故障数据</div>
<div style="position:absolute;left:496.0px;top:172.9px;width:3px;height:3px;border-radius:50%;background:#1e2a10"></div>
<div class="t g" style="left:507.4px;top:168.3px;font-size:13px;letter-spacing:-0.6px">负荷数据</div>
<div style="position:absolute;left:494.6px;top:206.7px;width:3px;height:3px;border-radius:50%;background:#1e2a10"></div>
<div class="t g" style="left:505.4px;top:202.1px;font-size:13px;letter-spacing:-0.6px">智能终端<span style="margin:0 2.3px">/</span>智能电表</div>
<div style="position:absolute;left:494.6px;top:222.0px;width:3px;height:3px;border-radius:50%;background:#1e2a10"></div>
<div class="t g" style="left:505.4px;top:217.4px;font-size:13px;letter-spacing:-0.6px">用电设备参数</div>
<div style="position:absolute;left:494.6px;top:236.1px;width:3px;height:3px;border-radius:50%;background:#1e2a10"></div>
<div class="t g" style="left:505.4px;top:231.5px;font-size:13px;letter-spacing:-0.6px">用电负荷数据</div>
<div style="position:absolute;left:494.6px;top:250.9px;width:3px;height:3px;border-radius:50%;background:#1e2a10"></div>
<div class="t g" style="left:505.4px;top:246.3px;font-size:13px;letter-spacing:-0.6px">用户分布式电源、储</div>
<div class="t g" style="left:505.4px;top:261.1px;font-size:13px;letter-spacing:-0.6px">能</div>
<div style="position:absolute;left:494.6px;top:281.0px;width:3px;height:3px;border-radius:50%;background:#1e2a10"></div>
<div class="t g" style="left:505.4px;top:276.4px;font-size:13px;letter-spacing:-0.6px">电动汽车</div>
<div style="position:absolute;left:496.8px;top:319.1px;width:3px;height:3px;border-radius:50%;background:#1e2a10"></div>
<div class="t g" style="left:508.0px;top:314.5px;font-size:13px;letter-spacing:-0.6px">交通、节假日</div>
<div style="position:absolute;left:496.8px;top:333.0px;width:3px;height:3px;border-radius:50%;background:#1e2a10"></div>
<div class="t g" style="left:508.0px;top:328.4px;font-size:13px;letter-spacing:-0.6px">经济、电价信息</div>
<div style="position:absolute;left:496.8px;top:348.3px;width:3px;height:3px;border-radius:50%;background:#1e2a10"></div>
<div class="t g" style="left:508.0px;top:343.7px;font-size:13px;letter-spacing:-0.6px">气象、环境</div>
<div style="position:absolute;left:496.8px;top:364.7px;width:3px;height:3px;border-radius:50%;background:#1e2a10"></div>
<div class="t g" style="left:508.0px;top:360.1px;font-size:13px;letter-spacing:-0.6px">互联网(社交网络)</div>
<div style="position:absolute;left:0px;top:396px;width:640px;height:35px;background:linear-gradient(180deg,#e4e4e8 0px,#f6f6f8 2px,#eeeef2 14px,#e6e6ea 28px,#d4d4d8 33px,#c8c8cc 35px)"></div>
<svg style="position:absolute;left:0;top:390px" width="20" height="46"><defs><filter id="nb"><feGaussianBlur stdDeviation="0.8"/></filter></defs><polygon points="-2,6 9.8,23.5 -2,41" fill="#fff" filter="url(#nb)"/></svg>
<div class="t" style="left:14.5px;top:409.6px;font-size:16px;letter-spacing:-0.3px;font-weight:bold;color:#1c1c80">数据类型:</div>
<div style="position:absolute;left:103px;top:403.5px;width:101px;height:24px;background:linear-gradient(180deg,#44a2bc,#338eaa);box-shadow:2px 2px 2px rgba(0,0,0,.35)"></div>
<div class="t cw" style="left:103px;top:408.3px;width:101px;text-align:center;font-size:16px">结构化数据</div>
<div style="position:absolute;left:210px;top:403.5px;width:108.69999999999999px;height:24px;background:linear-gradient(180deg,#90ae4c,#7a9638);box-shadow:2px 2px 2px rgba(0,0,0,.35)"></div>
<div class="t cw" style="left:210px;top:408.3px;width:108.69999999999999px;text-align:center;font-size:16px">非结构化数据</div>
<div style="position:absolute;left:325.5px;top:403.5px;width:154.5px;height:24px;background:linear-gradient(180deg,#7258a8,#5e4494);box-shadow:2px 2px 2px rgba(0,0,0,.35)"></div>
<div class="t cw" style="left:325.5px;top:408.3px;width:154.5px;text-align:center;font-size:16px">结构化/非结构化</div>
<div style="position:absolute;left:488px;top:403.5px;width:144px;height:24px;background:linear-gradient(180deg,#c0424a,#a83038);box-shadow:2px 2px 2px rgba(0,0,0,.35)"></div>
<div class="t cw" style="left:488px;top:408.3px;width:144px;text-align:center;font-size:16px">结构化/半结构化</div>
<svg style="position:absolute;left:522px;top:440px" width="32" height="24" viewBox="0 0 32 24">
<path d="M12 3 C6 3 2.5 6.5 2.5 10.5 C2.5 13 4 15 6 16.3 L5.2 19 L8.6 17.4 C9.7 17.7 10.8 17.9 12 17.9" fill="none" stroke="#aaa" stroke-width="1.1"/>
<path d="M19 8.5 C13.5 8.5 10.5 11.5 10.5 14.7 C10.5 18 13.5 20.8 19 20.8 C20 20.8 21 20.7 21.8 20.4 L24.6 21.8 L24 19.4 C26 18.2 27.4 16.5 27.4 14.7 C27.4 11.5 24.5 8.5 19 8.5 Z" fill="none" stroke="#aaa" stroke-width="1.1"/>
<circle cx="8.5" cy="8.6" r="0.9" fill="#aaa"/><circle cx="15" cy="8.6" r="0.9" fill="#aaa"/>
<circle cx="16.2" cy="13.2" r="0.8" fill="#aaa"/><circle cx="21.6" cy="13.2" r="0.8" fill="#aaa"/>
</svg>
<div class="t" style="left:556px;top:444.3px;font-size:16px;letter-spacing:-0.2px;color:#8a8a8a">电网技术</div>
<div class="t" style="left:590.5px;top:461.8px;font-size:14px;letter-spacing:0.4px;color:#111">P7</div>
</body></html>
